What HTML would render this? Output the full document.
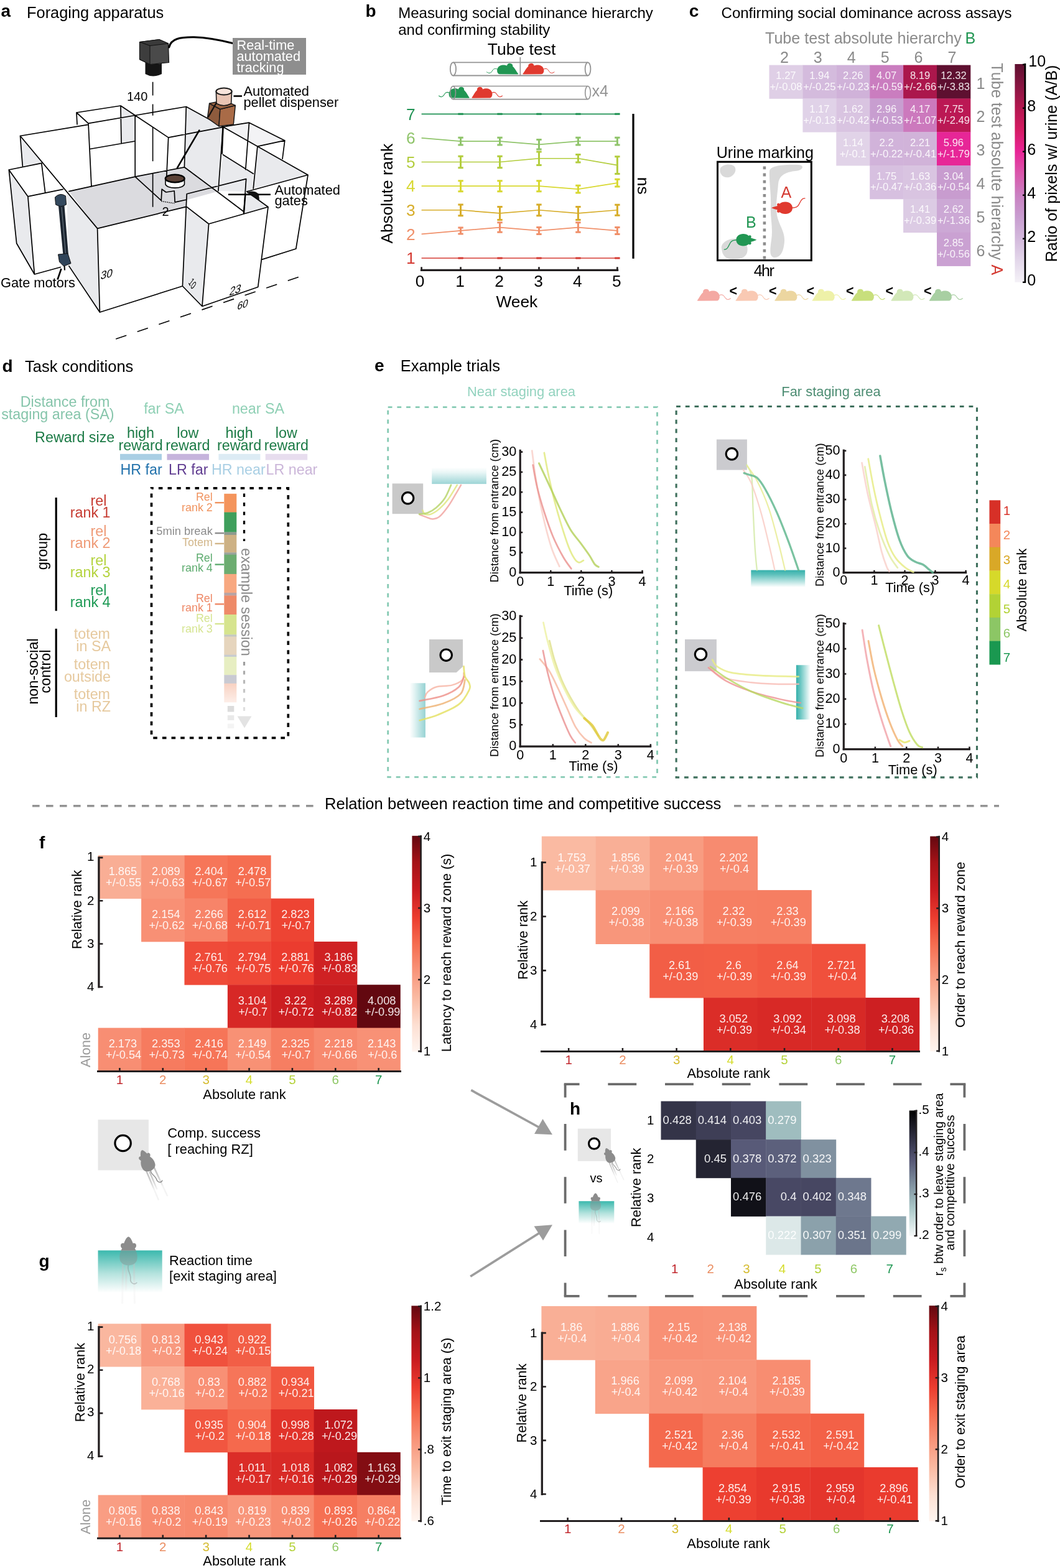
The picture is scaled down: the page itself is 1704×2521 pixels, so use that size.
<!DOCTYPE html>
<html lang="en"><head><meta charset="utf-8"><title>Figure</title>
<style>
html,body{margin:0;padding:0;background:#fff}
body{width:1704px;height:2521px;overflow:hidden}
svg{display:block;font-family:"Liberation Sans", Arial, Helvetica, sans-serif}
</style></head><body>
<svg width="1704" height="2521" viewBox="0 0 1704 2521">
<defs><linearGradient id="gpurd" x1="0" y1="0" x2="0" y2="1"><stop offset="0" stop-color="#5e1030"/><stop offset="0.1" stop-color="#881541"/><stop offset="0.2" stop-color="#b3174f"/><stop offset="0.3" stop-color="#d41b62"/><stop offset="0.4" stop-color="#e82496"/><stop offset="0.5" stop-color="#da56ab"/><stop offset="0.6" stop-color="#c980c1"/><stop offset="0.7" stop-color="#c89dd0"/><stop offset="0.8" stop-color="#d3b9dc"/><stop offset="0.9" stop-color="#e3d7ea"/><stop offset="1" stop-color="#f4f1f7"/></linearGradient>
<linearGradient id="gfade1" x1="0" y1="0" x2="0" y2="1"><stop offset="0" stop-color="#f8d2c2"/><stop offset="1" stop-color="#fdeee8"/></linearGradient>
<linearGradient id="gfade2" gradientUnits="userSpaceOnUse" x1="0" y1="1062" x2="0" y2="1146"><stop offset="0" stop-color="#9a9a9a"/><stop offset="1" stop-color="#e4e4e4"/></linearGradient>
<linearGradient id="gt_tb" x1="0" y1="0" x2="0" y2="1"><stop offset="0" stop-color="#ffffff"/><stop offset="0.3" stop-color="#e9f6f6"/><stop offset="1" stop-color="#9dd5d6"/></linearGradient>
<linearGradient id="gt_lr" x1="0" y1="0" x2="1" y2="0"><stop offset="0" stop-color="#ffffff"/><stop offset="0.3" stop-color="#e2f3f3"/><stop offset="1" stop-color="#96d2d3"/></linearGradient>
<linearGradient id="gt_bt" x1="0" y1="0" x2="0" y2="1"><stop offset="0" stop-color="#35b0ab"/><stop offset="0.25" stop-color="#5cc0bb"/><stop offset="1" stop-color="#ffffff"/></linearGradient>
<linearGradient id="gt_rl" x1="0" y1="0" x2="1" y2="0"><stop offset="0" stop-color="#35b0ab"/><stop offset="0.3" stop-color="#6ac6c2"/><stop offset="1" stop-color="#ffffff"/></linearGradient>
<linearGradient id="gr1" x1="0" y1="0" x2="0" y2="1"><stop offset="0" stop-color="#630810"/><stop offset="0.12" stop-color="#a41217"/><stop offset="0.25" stop-color="#c91b20"/><stop offset="0.38" stop-color="#ec3d2f"/><stop offset="0.5" stop-color="#f56c4f"/><stop offset="0.62" stop-color="#f89378"/><stop offset="0.75" stop-color="#fabaa2"/><stop offset="0.88" stop-color="#fde0d3"/><stop offset="1" stop-color="#fff5f0"/></linearGradient>
<linearGradient id="gr2" x1="0" y1="0" x2="0" y2="1"><stop offset="0" stop-color="#630810"/><stop offset="0.12" stop-color="#a41217"/><stop offset="0.25" stop-color="#c91b20"/><stop offset="0.38" stop-color="#ec3d2f"/><stop offset="0.5" stop-color="#f56c4f"/><stop offset="0.62" stop-color="#f89378"/><stop offset="0.75" stop-color="#fabaa2"/><stop offset="0.88" stop-color="#fde0d3"/><stop offset="1" stop-color="#fff5f0"/></linearGradient>
<linearGradient id="gr3" x1="0" y1="0" x2="0" y2="1"><stop offset="0" stop-color="#630810"/><stop offset="0.12" stop-color="#a41217"/><stop offset="0.25" stop-color="#c91b20"/><stop offset="0.38" stop-color="#ec3d2f"/><stop offset="0.5" stop-color="#f56c4f"/><stop offset="0.62" stop-color="#f89378"/><stop offset="0.75" stop-color="#fabaa2"/><stop offset="0.88" stop-color="#fde0d3"/><stop offset="1" stop-color="#fff5f0"/></linearGradient>
<linearGradient id="gr4" x1="0" y1="0" x2="0" y2="1"><stop offset="0" stop-color="#630810"/><stop offset="0.12" stop-color="#a41217"/><stop offset="0.25" stop-color="#c91b20"/><stop offset="0.38" stop-color="#ec3d2f"/><stop offset="0.5" stop-color="#f56c4f"/><stop offset="0.62" stop-color="#f89378"/><stop offset="0.75" stop-color="#fabaa2"/><stop offset="0.88" stop-color="#fde0d3"/><stop offset="1" stop-color="#fff5f0"/></linearGradient>
<linearGradient id="gtrail" gradientUnits="userSpaceOnUse" x1="0" y1="8" x2="0" y2="46"><stop offset="0" stop-color="#b9b9b9"/><stop offset="0.6" stop-color="#cfcfcf"/><stop offset="1" stop-color="#f3f3f3"/></linearGradient>
<linearGradient id="gteal" x1="0" y1="0" x2="0" y2="1"><stop offset="0" stop-color="#3bb9ae"/><stop offset="0.12" stop-color="#56c2b8"/><stop offset="0.55" stop-color="#b5e3de"/><stop offset="1" stop-color="#ffffff"/></linearGradient>
<clipPath id="cpm1"><rect x="150" y="1960" width="120" height="50.4"/></clipPath>
<linearGradient id="gbone" x1="0" y1="0" x2="0" y2="1"><stop offset="0" stop-color="#000000"/><stop offset="0.1" stop-color="#16161e"/><stop offset="0.2" stop-color="#2b2b3c"/><stop offset="0.3" stop-color="#41415a"/><stop offset="0.4" stop-color="#575876"/><stop offset="0.5" stop-color="#6c768c"/><stop offset="0.6" stop-color="#8294a2"/><stop offset="0.7" stop-color="#98b2b7"/><stop offset="0.8" stop-color="#b1cdcd"/><stop offset="0.9" stop-color="#d3e3e3"/><stop offset="1" stop-color="#f5f8f8"/></linearGradient>
<clipPath id="cpm2"><rect x="920" y="1900" width="80" height="31.2"/></clipPath></defs>
<rect width="1704" height="2521" fill="#fff"/>
<g id="pa">
<text x="1.5" y="27" font-size="28" fill="#000" font-weight="bold">a</text>
<text x="43" y="28.7" font-size="25.4" fill="#000">Foraging apparatus</text>
<path d="M32.5 218.5 L36.3 267 L67 262.4 L59 250 Z" fill="#e9eaed"/>
<path d="M14.3 273 L44.9 315.9 L55.4 441 L26.7 391.3 Z" fill="#e9eaed"/>
<path d="M107 306 L156.6 367.4 L160.4 502 L110.8 427.6 Z" fill="#e9eaed"/>
<path d="M110.8 307.6 L217.2 284.1 L296.4 268.8 L349 308 L300 321.5 L299.5 332.3 L156.6 367.4 Z" fill="#dbdbdf"/>
<path d="M194 170 L217 186 L217.2 228 L195 231 Z" fill="#e9eaed"/>
<path d="M299.3 171.5 L358.5 203.9 L350.9 307 L296.4 268.8 Z" fill="#e9eaed"/>
<path d="M400.5 197.2 L457.8 225.9 L413.9 235.4 L358.5 203.9 Z" fill="#f3f3f5"/>
<path d="M413.9 235.4 L495 281.3 L406.5 303.4 Z" fill="#e9eaed"/>
<path d="M358.5 248.8 L407.2 279.3 L406.2 303 L396.7 308 L350.9 307 Z" fill="#e9eaed"/>
<path d="M299.3 331.9 L335.6 360 L325 492.5 L293.4 460 Z" fill="#e9eaed"/>
<path d="M391.9 343.3 L396.7 308 L431 332.8 Z" fill="#e9eaed"/>
<path d="M123 181 L194 170 L217.2 185.5 L142 198.3 L123 181 M123 181 L124 200 M194 170 L195 230.5 M142 198.3 L147 300 M217.2 185.5 L217.2 284.1 M145 239.5 L217 227 M32.5 218.5 L142 200.4 M32.5 218.5 L36.3 267.2 M32.5 218.5 L156.6 367.4 M14.3 273 L66.8 262.4 M14.3 273 L44.9 315.9 L101.2 304.4 M14.3 273 L26.7 391.3 L55.4 441 L97.4 429.5 M44.9 315.9 L55.4 441 M66.8 262.4 L72.6 309.2 M156.6 367.4 L160.4 502 L293.4 460 M156.6 367.4 L299.6 332.3 M160.4 502 L110.8 427.6 M110.8 307.6 L217.2 284.1 L296.4 268.8 M217.2 185.5 L299.3 171.5 L358.5 203.9 L495 281.3 M217.2 185.5 L270.7 221.1 L358.5 204.3 M270.7 221.1 L267.8 284 M299.3 171.5 L296.4 268.8 M358.5 204.3 L350.9 307 M217.2 284.1 L259.2 322.3 L260.2 304.2 L266.8 309 L280.2 307 L281.2 325.2 L300 321 M296.4 268.8 L349 308 L391.5 340 M300.3 311.8 L395.7 287.6 L391.9 343.3 M300.3 311.8 L299.3 331.9 L293.4 460 M299.3 331.9 L335.6 360 L431 332.8 L414.7 461.5 L325 492.5 L335.6 360 M293.4 460 L325 492.5 M396.7 308 L431 332.8 M396.7 308 L495 281.3 L475.8 400 L421.4 417.1 M358.5 203.9 L400.5 197.2 L457.8 225.9 L413.9 235.4 M457.8 225.9 L454 255.5 M400.5 197.2 L394.8 272.7 M413.9 235.4 L407.2 303.2 M358.5 248.8 L407.2 279.3" fill="none" stroke="#000" stroke-width="1.7" stroke-linejoin="round" stroke-linecap="round"/>
<line x1="259.5" y1="323.5" x2="281" y2="327" stroke="#000" stroke-width="1.5" stroke-dasharray="1.5 1.5"/>
<line x1="320.3" y1="209.6" x2="285" y2="269.8" stroke="#000" stroke-width="2.6" stroke-linecap="round"/>
<line x1="358.5" y1="204.3" x2="356.6" y2="247.8" stroke="#000" stroke-width="2.6"/>
<line x1="367" y1="312.8" x2="434.9" y2="312.8" stroke="#000" stroke-width="2.6"/>
<line x1="394.5" y1="311" x2="391.9" y2="343.3" stroke="#000" stroke-width="2.4"/>
<path d="M398 309 Q408 305 416 312 L417 322 L403 314 Z" fill="#111"/>
<path d="M266 287 L266 296 A15.3 6.7 0 0 0 296.5 296 L296.5 287 Z" fill="#fff" stroke="#000" stroke-width="1.6"/>
<ellipse cx="281.2" cy="287" rx="15.3" ry="6.2" fill="#5a4136" stroke="#000" stroke-width="2.6"/>
<path d="M245.6 131.7 V153.6 M245.6 167.6 V185.8 M245.6 204.9 V259.3 M245.6 278.4 V332.8" fill="none" stroke="#000" stroke-width="1.6"/>
<line x1="186.2" y1="545" x2="481.2" y2="445" stroke="#000" stroke-width="1.6" stroke-dasharray="18 18.5"/>
<path d="M224.5 67.5 L256 63.5 L270.5 70 L271.5 100.5 L241 103.5 L224.5 95.5 Z" fill="#4a4a4a" stroke="#111" stroke-width="1.2"/>
<path d="M224.5 67.5 L256 63.5 L270.5 70 L241 73.5 Z" fill="#3a3a3a" stroke="#111" stroke-width="1"/>
<path d="M224.5 67.5 L241 73.5 L241 103.5 L224.5 95.5 Z" fill="#3d3d3d" stroke="#111" stroke-width="1"/>
<path d="M233.5 100 L233.5 119 Q246 126 260 119 L260 102 L241 103.5 Z" fill="#151515"/>
<path d="M271.8 76 C275 62 290 59.5 312 59.8 C336 60.3 356 65 374 69.6" fill="none" stroke="#000" stroke-width="3.1" stroke-linecap="round"/>
<rect x="374" y="61" width="118" height="59" fill="#8e8e8e"/>
<text x="380.5" y="79.5" font-size="21.7" fill="#fff">Real-time</text>
<text x="380.5" y="97.5" font-size="21.7" fill="#fff">automated</text>
<text x="380.5" y="115.5" font-size="21.7" fill="#fff">tracking</text>
<path d="M336.6 166.3 L353.9 175.5 L351.9 203 L333.5 189.8 Z" fill="#8e5b3d" stroke="#1a1a1a" stroke-width="1.5" stroke-linejoin="round"/>
<path d="M353.9 175.5 L378.3 169.4 L375.3 200 L351.9 203 Z" fill="#a96b47" stroke="#1a1a1a" stroke-width="1.5" stroke-linejoin="round"/>
<path d="M336.6 166.3 L360 161.5 L378.3 169.4 L353.9 175.5 Z" fill="#9c6443" stroke="#1a1a1a" stroke-width="1.5" stroke-linejoin="round"/>
<path d="M347.4 147 L348 166.5 Q360 173 371.6 166.5 L372.6 147 Z" fill="#e9c5b4" stroke="#1a1a1a" stroke-width="1.6"/>
<ellipse cx="360" cy="147" rx="12.6" ry="5.4" fill="#f7e4db" stroke="#1a1a1a" stroke-width="2"/>
<line x1="348" y1="165" x2="334.5" y2="188.5" stroke="#111" stroke-width="2.4"/>
<line x1="375.5" y1="154.5" x2="389" y2="154.5" stroke="#000" stroke-width="2.6"/>
<text x="391.5" y="153.5" font-size="21.8" fill="#000">Automated</text>
<text x="391.5" y="171.5" font-size="21.8" fill="#000">pellet dispenser</text>
<text x="441.5" y="312.5" font-size="21.8" fill="#000">Automated</text>
<text x="441.5" y="330.3" font-size="21.8" fill="#000">gates</text>
<text x="204" y="162.3" font-size="20" fill="#000">140</text>
<text x="260.5" y="347.3" font-size="20" fill="#000">2</text>
<text x="1" y="462.3" font-size="21.8" fill="#000">Gate motors</text>
<line x1="98.5" y1="432" x2="92.5" y2="449.5" stroke="#000" stroke-width="2.6"/>
<path d="M88.5 317 Q96.5 309 105.5 315 L106.5 329 Q98 334 89.5 329 Z" fill="#34495e" stroke="#111" stroke-width="1"/>
<path d="M94 331 L103.5 331 L110 410 L101.5 410 Z" fill="#1c2530"/>
<line x1="99" y1="333" x2="105.5" y2="408" stroke="#7d8a96" stroke-width="0.9"/>
<path d="M93.5 409 L109 407.5 L114 423.5 L102.5 428 L95.5 421 Z" fill="#2f4358" stroke="#111" stroke-width="1"/>
<line x1="103.5" y1="427" x2="104" y2="434.5" stroke="#111" stroke-width="2.2"/>
<text font-size="17.5" transform="translate(161 449.5) rotate(-14) skewX(-24)">30</text>
<text font-size="16" transform="translate(302.5 455) rotate(60) skewX(22) scale(0.72 1)">10</text>
<text font-size="17" transform="translate(368 475.5) rotate(-18) skewX(-30)">23</text>
<text font-size="16" transform="translate(380.5 498.5) rotate(-18) skewX(-30)">60</text>
</g>
<g id="pb">
<text x="587.5" y="27" font-size="28" fill="#000" font-weight="bold">b</text>
<text x="640.2" y="28.5" font-size="24" fill="#000">Measuring social dominance hierarchy</text>
<text x="640.2" y="56" font-size="24" fill="#000">and confirming stability</text>
<text x="838.6" y="88" font-size="26.5" fill="#000" text-anchor="middle">Tube test</text>
<line x1="728.2" y1="100.3" x2="945" y2="100.3" stroke="#939393" stroke-width="1.8"/>
<line x1="728.2" y1="121.5" x2="945" y2="121.5" stroke="#939393" stroke-width="1.8"/>
<ellipse cx="728.4" cy="110.9" rx="4.6" ry="10.6" fill="#fff" stroke="#939393" stroke-width="1.8"/>
<ellipse cx="945" cy="110.9" rx="4.4" ry="10.6" fill="#fff" stroke="#939393" stroke-width="1.8"/>
<line x1="836.3" y1="92" x2="836.3" y2="121" stroke="#939393" stroke-width="1.6"/>
<g transform="translate(799 102.2) scale(1 1)"><path d="M4.5 17 C1.5 17 -0.3 13.5 0.2 10 C0.8 5.5 4.5 2.6 9 2.3 C11.5 2.1 14 2.6 16 3.4 C16.2 0.8 18.5 -0.6 21.2 -0.3 C24 0 25.8 2 25.2 4.6 C27.5 6.5 29.5 9.5 31 12 C32 13.6 33.2 15.4 34.2 16.6 C34.5 17 34 17.2 33 17.2 Z" fill="#219653"/><path d="M0.6 9 C-2.5 7.5 -5 8 -6.8 10.5 C-8.5 13 -9.5 15 -12 15.2 C-14 15.4 -15 14.6 -16.5 13.6" fill="none" stroke="#219653" stroke-width="1" stroke-linecap="round"/></g>
<g transform="translate(874.5 102.2) scale(-1 1)"><path d="M4.5 17 C1.5 17 -0.3 13.5 0.2 10 C0.8 5.5 4.5 2.6 9 2.3 C11.5 2.1 14 2.6 16 3.4 C16.2 0.8 18.5 -0.6 21.2 -0.3 C24 0 25.8 2 25.2 4.6 C27.5 6.5 29.5 9.5 31 12 C32 13.6 33.2 15.4 34.2 16.6 C34.5 17 34 17.2 33 17.2 Z" fill="#e03a2f"/><path d="M0.6 9 C-2.5 7.5 -5 8 -6.8 10.5 C-8.5 13 -9.5 15 -12 15.2 C-14 15.4 -15 14.6 -16.5 13.6" fill="none" stroke="#e03a2f" stroke-width="1" stroke-linecap="round"/></g>
<line x1="728.2" y1="138.5" x2="945" y2="138.5" stroke="#939393" stroke-width="1.6"/>
<line x1="728.2" y1="159.6" x2="945" y2="159.6" stroke="#939393" stroke-width="1.6"/>
<ellipse cx="945" cy="149" rx="4.3" ry="10.5" fill="#fff" stroke="#939393" stroke-width="1.6"/>
<g transform="translate(721.5 140) scale(0.97 1.03)"><path d="M4.5 17 C1.5 17 -0.3 13.5 0.2 10 C0.8 5.5 4.5 2.6 9 2.3 C11.5 2.1 14 2.6 16 3.4 C16.2 0.8 18.5 -0.6 21.2 -0.3 C24 0 25.8 2 25.2 4.6 C27.5 6.5 29.5 9.5 31 12 C32 13.6 33.2 15.4 34.2 16.6 C34.5 17 34 17.2 33 17.2 Z" fill="#219653"/><path d="M0.6 9 C-2.5 7.5 -5 8 -6.8 10.5 C-8.5 13 -9.5 15 -12 15.2 C-14 15.4 -15 14.6 -16.5 13.6" fill="none" stroke="#219653" stroke-width="1" stroke-linecap="round"/></g>
<g transform="translate(791.5 140) scale(-0.97 1.03)"><path d="M4.5 17 C1.5 17 -0.3 13.5 0.2 10 C0.8 5.5 4.5 2.6 9 2.3 C11.5 2.1 14 2.6 16 3.4 C16.2 0.8 18.5 -0.6 21.2 -0.3 C24 0 25.8 2 25.2 4.6 C27.5 6.5 29.5 9.5 31 12 C32 13.6 33.2 15.4 34.2 16.6 C34.5 17 34 17.2 33 17.2 Z" fill="#e03a2f"/><path d="M0.6 9 C-2.5 7.5 -5 8 -6.8 10.5 C-8.5 13 -9.5 15 -12 15.2 C-14 15.4 -15 14.6 -16.5 13.6" fill="none" stroke="#e03a2f" stroke-width="1" stroke-linecap="round"/></g>
<ellipse cx="728.2" cy="149" rx="4.3" ry="10.5" fill="none" stroke="#939393" stroke-width="1.6"/>
<text x="951.5" y="155.3" font-size="25" fill="#939393">x4</text>
<path d="M677.6 183.28 L740.55 183.28 L803.5 183.28 L866.45 183.28 L929.4 183.28 L992.35 183.28" fill="none" stroke="#1f9253" stroke-width="1.7"/>
<path d="M736.35 183.28 H744.75 M799.3 183.28 H807.7 M862.25 183.28 H870.65 M925.2 183.28 H933.6 M988.15 183.28 H996.55 " fill="none" stroke="#1f9253" stroke-width="3"/>
<text x="660.2" y="192.58" font-size="26.3" fill="#1f9253" text-anchor="middle">7</text>
<path d="M677.6 221.9 L740.55 227.11 L803.5 227.11 L866.45 232.33 L929.4 227.11 L992.35 227.11" fill="none" stroke="#8fc46a" stroke-width="1.7"/>
<path d="M740.55 221.32 V232.91 M736.35 221.32 H744.75 M736.35 232.91 H744.75 M803.5 221.32 V232.91 M799.3 221.32 H807.7 M799.3 232.91 H807.7 M866.45 224.6 V240.05 M862.25 224.6 H870.65 M862.25 240.05 H870.65 M929.4 221.32 V232.91 M925.2 221.32 H933.6 M925.2 232.91 H933.6 M992.35 221.32 V232.91 M988.15 221.32 H996.55 M988.15 232.91 H996.55 " fill="none" stroke="#8fc46a" stroke-width="3"/>
<text x="660.2" y="231.2" font-size="26.3" fill="#8fc46a" text-anchor="middle">6</text>
<path d="M677.6 260.52 L740.55 260.52 L803.5 260.52 L866.45 254.73 L929.4 254.73 L992.35 265.54" fill="none" stroke="#b3cd3e" stroke-width="1.7"/>
<path d="M740.55 251.25 V269.79 M736.35 251.25 H744.75 M736.35 269.79 H744.75 M803.5 251.25 V269.79 M799.3 251.25 H807.7 M799.3 269.79 H807.7 M866.45 243.91 V265.54 M862.25 243.91 H870.65 M862.25 265.54 H870.65 M929.4 248.55 V260.91 M925.2 248.55 H933.6 M925.2 260.91 H933.6 M992.35 251.64 V279.44 M988.15 251.64 H996.55 M988.15 279.44 H996.55 " fill="none" stroke="#b3cd3e" stroke-width="3"/>
<text x="660.2" y="269.82" font-size="26.3" fill="#b3cd3e" text-anchor="middle">5</text>
<path d="M677.6 299.14 L740.55 299.14 L803.5 299.14 L866.45 299.14 L929.4 304.16 L992.35 294.12" fill="none" stroke="#d8d830" stroke-width="1.7"/>
<path d="M740.55 290.64 V307.64 M736.35 290.64 H744.75 M736.35 307.64 H744.75 M803.5 290.64 V307.64 M799.3 290.64 H807.7 M799.3 307.64 H807.7 M866.45 290.64 V307.64 M862.25 290.64 H870.65 M862.25 307.64 H870.65 M929.4 298.37 V309.95 M925.2 298.37 H933.6 M925.2 309.95 H933.6 M992.35 288.33 V299.91 M988.15 288.33 H996.55 M988.15 299.91 H996.55 " fill="none" stroke="#d8d830" stroke-width="3"/>
<text x="660.2" y="308.44" font-size="26.3" fill="#d8d830" text-anchor="middle">4</text>
<path d="M677.6 337.76 L740.55 337.76 L803.5 342.97 L866.45 337.76 L929.4 342.97 L992.35 337.76" fill="none" stroke="#d7ad2a" stroke-width="1.7"/>
<path d="M740.55 328.88 V346.64 M736.35 328.88 H744.75 M736.35 346.64 H744.75 M803.5 332.55 V353.4 M799.3 332.55 H807.7 M799.3 353.4 H807.7 M866.45 328.88 V346.64 M862.25 328.88 H870.65 M862.25 346.64 H870.65 M929.4 332.55 V353.4 M925.2 332.55 H933.6 M925.2 353.4 H933.6 M992.35 329.26 V346.26 M988.15 329.26 H996.55 M988.15 346.26 H996.55 " fill="none" stroke="#d7ad2a" stroke-width="3"/>
<text x="660.2" y="347.06" font-size="26.3" fill="#d7ad2a" text-anchor="middle">3</text>
<path d="M677.6 376.38 L740.55 370.97 L803.5 365.57 L866.45 370.97 L929.4 365.57 L992.35 370.97" fill="none" stroke="#f0906a" stroke-width="1.7"/>
<path d="M740.55 365.95 V375.99 M736.35 365.95 H744.75 M736.35 375.99 H744.75 M803.5 357.84 V373.29 M799.3 357.84 H807.7 M799.3 373.29 H807.7 M866.45 365.57 V376.38 M862.25 365.57 H870.65 M862.25 376.38 H870.65 M929.4 357.84 V373.29 M925.2 357.84 H933.6 M925.2 373.29 H933.6 M992.35 365.57 V376.38 M988.15 365.57 H996.55 M988.15 376.38 H996.55 " fill="none" stroke="#f0906a" stroke-width="3"/>
<text x="660.2" y="385.68" font-size="26.3" fill="#f0906a" text-anchor="middle">2</text>
<path d="M677.6 415 L740.55 415 L803.5 415 L866.45 415 L929.4 415 L992.35 415" fill="none" stroke="#d43a32" stroke-width="1.7"/>
<path d="M736.35 415 H744.75 M799.3 415 H807.7 M862.25 415 H870.65 M925.2 415 H933.6 M988.15 415 H996.55 " fill="none" stroke="#d43a32" stroke-width="3"/>
<text x="660.2" y="424.3" font-size="26.3" fill="#d43a32" text-anchor="middle">1</text>
<line x1="675.9" y1="434.3" x2="994.2" y2="434.3" stroke="#231f20" stroke-width="3.2"/>
<text x="675.1" y="461" font-size="26.3" fill="#000" text-anchor="middle">0</text>
<text x="739.55" y="461" font-size="26.3" fill="#000" text-anchor="middle">1</text>
<text x="802.5" y="461" font-size="26.3" fill="#000" text-anchor="middle">2</text>
<text x="865.45" y="461" font-size="26.3" fill="#000" text-anchor="middle">3</text>
<text x="928.4" y="461" font-size="26.3" fill="#000" text-anchor="middle">4</text>
<text x="991.35" y="461" font-size="26.3" fill="#000" text-anchor="middle">5</text>
<path d="M677.6 434.3 V429.3 M740.55 434.3 V429.3 M803.5 434.3 V429.3 M866.45 434.3 V429.3 M929.4 434.3 V429.3 M992.35 434.3 V429.3 " fill="none" stroke="#231f20" stroke-width="2.6"/>
<text x="830.9" y="493.8" font-size="26.3" fill="#000" text-anchor="middle">Week</text>
<text font-size="26.3" fill="#000" text-anchor="middle" transform="translate(630.5 311.2) rotate(-90)">Absolute rank</text>
<line x1="1018" y1="183" x2="1018" y2="415.8" stroke="#000" stroke-width="3.2"/>
<text font-size="26.3" fill="#000" text-anchor="middle" transform="translate(1025 298.7) rotate(90)">ns</text>
</g>
<g id="pc">
<text x="1107.8" y="26.5" font-size="28" fill="#000" font-weight="bold">c</text>
<text x="1159.6" y="28.8" font-size="24" fill="#000">Confirming social dominance across assays</text>
<text x="1230" y="70.4" font-size="25.1" fill="#8a8a8a">Tube test absolute hierarchy</text>
<text x="1551.5" y="70.4" font-size="25.1" fill="#219653">B</text>
<rect x="1236.5" y="104.6" width="54.3" height="54.22" fill="#dfcfe6"/>
<rect x="1290.4" y="104.6" width="54.3" height="54.22" fill="#d4bbdd"/>
<rect x="1344.3" y="104.6" width="54.3" height="54.22" fill="#d0b2d9"/>
<rect x="1398.2" y="104.6" width="54.3" height="54.22" fill="#ca7dbf"/>
<rect x="1452.1" y="104.6" width="54.3" height="54.22" fill="#ab174c"/>
<rect x="1506" y="104.6" width="54.3" height="54.22" fill="#5e1030"/>
<rect x="1290.4" y="158.42" width="54.3" height="54.22" fill="#e0d2e8"/>
<rect x="1344.3" y="158.42" width="54.3" height="54.22" fill="#d9c4e1"/>
<rect x="1398.2" y="158.42" width="54.3" height="54.22" fill="#c89ed0"/>
<rect x="1452.1" y="158.42" width="54.3" height="54.22" fill="#cc79bd"/>
<rect x="1506" y="158.42" width="54.3" height="54.22" fill="#bb1854"/>
<rect x="1344.3" y="212.24" width="54.3" height="54.22" fill="#e1d3e8"/>
<rect x="1398.2" y="212.24" width="54.3" height="54.22" fill="#d1b3da"/>
<rect x="1452.1" y="212.24" width="54.3" height="54.22" fill="#d1b3d9"/>
<rect x="1506" y="212.24" width="54.3" height="54.22" fill="#e72697"/>
<rect x="1398.2" y="266.06" width="54.3" height="54.22" fill="#d7c0e0"/>
<rect x="1452.1" y="266.06" width="54.3" height="54.22" fill="#d9c4e1"/>
<rect x="1506" y="266.06" width="54.3" height="54.22" fill="#c89ccf"/>
<rect x="1452.1" y="319.88" width="54.3" height="54.22" fill="#dccbe4"/>
<rect x="1506" y="319.88" width="54.3" height="54.22" fill="#cca8d5"/>
<rect x="1506" y="373.7" width="54.3" height="54.22" fill="#caa1d2"/>
<g fill="#fff" fill-opacity="0.88" font-size="16.6" text-anchor="middle">
<text x="1263.45" y="127.21">1.27</text>
<text x="1263.45" y="144.91">+/-0.08</text>
<text x="1317.35" y="127.21">1.94</text>
<text x="1317.35" y="144.91">+/-0.25</text>
<text x="1371.25" y="127.21">2.26</text>
<text x="1371.25" y="144.91">+/-0.23</text>
<text x="1425.15" y="127.21">4.07</text>
<text x="1425.15" y="144.91">+/-0.59</text>
<text x="1479.05" y="127.21">8.19</text>
<text x="1479.05" y="144.91">+/-2.66</text>
<text x="1532.95" y="127.21">12.32</text>
<text x="1532.95" y="144.91">+/-3.83</text>
<text x="1317.35" y="181.03">1.17</text>
<text x="1317.35" y="198.73">+/-0.13</text>
<text x="1371.25" y="181.03">1.62</text>
<text x="1371.25" y="198.73">+/-0.42</text>
<text x="1425.15" y="181.03">2.96</text>
<text x="1425.15" y="198.73">+/-0.53</text>
<text x="1479.05" y="181.03">4.17</text>
<text x="1479.05" y="198.73">+/-1.07</text>
<text x="1532.95" y="181.03">7.75</text>
<text x="1532.95" y="198.73">+/-2.49</text>
<text x="1371.25" y="234.85">1.14</text>
<text x="1371.25" y="252.55">+/-0.1</text>
<text x="1425.15" y="234.85">2.2</text>
<text x="1425.15" y="252.55">+/-0.22</text>
<text x="1479.05" y="234.85">2.21</text>
<text x="1479.05" y="252.55">+/-0.41</text>
<text x="1532.95" y="234.85">5.96</text>
<text x="1532.95" y="252.55">+/-1.79</text>
<text x="1425.15" y="288.67">1.75</text>
<text x="1425.15" y="306.37">+/-0.47</text>
<text x="1479.05" y="288.67">1.63</text>
<text x="1479.05" y="306.37">+/-0.36</text>
<text x="1532.95" y="288.67">3.04</text>
<text x="1532.95" y="306.37">+/-0.54</text>
<text x="1479.05" y="342.49">1.41</text>
<text x="1479.05" y="360.19">+/-0.39</text>
<text x="1532.95" y="342.49">2.62</text>
<text x="1532.95" y="360.19">+/-1.36</text>
<text x="1532.95" y="396.31">2.85</text>
<text x="1532.95" y="414.01">+/-0.56</text>
</g>
<text x="1260.95" y="100.7" font-size="25.1" fill="#8a8a8a" text-anchor="middle">2</text>
<text x="1314.85" y="100.7" font-size="25.1" fill="#8a8a8a" text-anchor="middle">3</text>
<text x="1368.75" y="100.7" font-size="25.1" fill="#8a8a8a" text-anchor="middle">4</text>
<text x="1422.65" y="100.7" font-size="25.1" fill="#8a8a8a" text-anchor="middle">5</text>
<text x="1476.55" y="100.7" font-size="25.1" fill="#8a8a8a" text-anchor="middle">6</text>
<text x="1530.45" y="100.7" font-size="25.1" fill="#8a8a8a" text-anchor="middle">7</text>
<text x="1576.5" y="142.51" font-size="25.1" fill="#8a8a8a" text-anchor="middle">1</text>
<text x="1576.5" y="196.33" font-size="25.1" fill="#8a8a8a" text-anchor="middle">2</text>
<text x="1576.5" y="250.15" font-size="25.1" fill="#8a8a8a" text-anchor="middle">3</text>
<text x="1576.5" y="303.97" font-size="25.1" fill="#8a8a8a" text-anchor="middle">4</text>
<text x="1576.5" y="357.79" font-size="25.1" fill="#8a8a8a" text-anchor="middle">5</text>
<text x="1576.5" y="411.61" font-size="25.1" fill="#8a8a8a" text-anchor="middle">6</text>
<text font-size="25.2" fill="#8a8a8a" transform="translate(1593.5 101.3) rotate(90)">Tube test absolute hierarchy</text>
<text font-size="25.1" fill="#d43a32" transform="translate(1593.5 425.5) rotate(90)">A</text>
<rect x="1631.4" y="103" width="16.4" height="350.8" fill="url(#gpurd)"/>
<line x1="1647.9" y1="102" x2="1647.9" y2="454.6" stroke="#000" stroke-width="2.7"/>
<line x1="1644" y1="103.8" x2="1649" y2="103.8" stroke="#000" stroke-width="2.4"/>
<text x="1653.2" y="107.2" font-size="25.1" fill="#000">10</text>
<line x1="1644" y1="173.8" x2="1649" y2="173.8" stroke="#000" stroke-width="2.4"/>
<text x="1651.2" y="178.8" font-size="25.1" fill="#000">8</text>
<line x1="1644" y1="243.8" x2="1649" y2="243.8" stroke="#000" stroke-width="2.4"/>
<text x="1651.2" y="248.8" font-size="25.1" fill="#000">6</text>
<line x1="1644" y1="313.8" x2="1649" y2="313.8" stroke="#000" stroke-width="2.4"/>
<text x="1651.2" y="318.8" font-size="25.1" fill="#000">4</text>
<line x1="1644" y1="383.8" x2="1649" y2="383.8" stroke="#000" stroke-width="2.4"/>
<text x="1651.2" y="388.8" font-size="25.1" fill="#000">2</text>
<line x1="1644" y1="453.8" x2="1649" y2="453.8" stroke="#000" stroke-width="2.4"/>
<text x="1651.2" y="458.8" font-size="25.1" fill="#000">0</text>
<text font-size="25.1" fill="#000" text-anchor="middle" transform="translate(1698.5 263) rotate(-90)">Ratio of pixels w/ urine (A/B)</text>
<text x="1151.7" y="253.8" font-size="25.1" fill="#000">Urine marking</text>
<rect x="1153.5" y="260.2" width="150.8" height="158.4" fill="#fff" stroke="#000" stroke-width="3"/>
<path d="M1158 271 C1160 264 1176 262 1181 268 C1185 274 1180 283 1172 285 C1163 287 1156 280 1158 271 Z" fill="#d9d9d9"/>
<path d="M1237 275 C1238 266 1262 264 1284 265 C1294 266 1291 274 1278 275 C1262 277 1252 282 1251 296 C1250 312 1246 330 1249 346 C1252 362 1262 372 1261 388 C1260 402 1256 414 1245 414 C1236 414 1238 400 1240 386 C1243 366 1238 350 1239 332 C1240 312 1236 292 1237 275 Z" fill="#d9d9d9"/>
<path d="M1160 400 C1158 390 1172 382 1186 384 C1198 386 1204 396 1201 406 C1199 414 1190 417 1178 417 C1166 417 1161 410 1160 400 Z" fill="#d9d9d9"/>
<line x1="1228.9" y1="267.5" x2="1228.9" y2="417" stroke="#8e8e8e" stroke-width="4.6" stroke-dasharray="4.8 6.3"/>
<text x="1255.5" y="318.3" font-size="25.1" fill="#d43a32">A</text>
<text x="1199" y="366" font-size="25.1" fill="#219653">B</text>
<g transform="translate(1275 323.55) scale(-0.97 1.02)"><path d="M1 10.5 C1 4.5 6.5 1 13 1 C17 1 20 2.2 22.5 4 C23.5 2.6 26 2.8 26.6 4.6 C27 5.8 26.6 6.8 26 7.4 C29.5 8.2 33.5 9.4 36 10.5 C33.5 11.6 29.5 12.8 26 13.6 C26.6 14.2 27 15.2 26.6 16.4 C26 18.2 23.5 18.4 22.5 17 C20 18.8 17 20 13 20 C6.5 20 1 16.5 1 10.5 Z" fill="#e03a2f"/><path d="M1.5 10.5 C-5 10 -8 9 -10.5 3.5 C-13 -1.5 -15 -5 -19.5 -4.5" fill="none" stroke="#e03a2f" stroke-width="1.3" stroke-linecap="round"/></g>
<g transform="translate(1182.5 375.05) scale(0.94 1.02)"><path d="M1 10.5 C1 4.5 6.5 1 13 1 C17 1 20 2.2 22.5 4 C23.5 2.6 26 2.8 26.6 4.6 C27 5.8 26.6 6.8 26 7.4 C29.5 8.2 33.5 9.4 36 10.5 C33.5 11.6 29.5 12.8 26 13.6 C26.6 14.2 27 15.2 26.6 16.4 C26 18.2 23.5 18.4 22.5 17 C20 18.8 17 20 13 20 C6.5 20 1 16.5 1 10.5 Z" fill="#219653"/><path d="M1.5 10.5 C-5 11 -8 12 -10.5 17.5 C-13 22.5 -15 26 -19.5 25.5" fill="none" stroke="#219653" stroke-width="1.3" stroke-linecap="round"/></g>
<text x="1227.5" y="444.2" font-size="25.1" fill="#000" text-anchor="middle" letter-spacing="-1.6">4hr</text>
<g transform="translate(1157 465) scale(-1.06 1.09)"><path d="M4.5 17 C1.5 17 -0.3 13.5 0.2 10 C0.8 5.5 4.5 2.6 9 2.3 C11.5 2.1 14 2.6 16 3.4 C16.2 0.8 18.5 -0.6 21.2 -0.3 C24 0 25.8 2 25.2 4.6 C27.5 6.5 29.5 9.5 31 12 C32 13.6 33.2 15.4 34.2 16.6 C34.5 17 34 17.2 33 17.2 Z" fill="#f4a9a3"/><path d="M0.6 9 C-2.5 7.5 -5 8 -6.8 10.5 C-8.5 13 -9.5 15 -12 15.2 C-14 15.4 -15 14.6 -16.5 13.6" fill="none" stroke="#f4a9a3" stroke-width="1" stroke-linecap="round"/></g>
<g transform="translate(1218.8 465) scale(-1.06 1.09)"><path d="M4.5 17 C1.5 17 -0.3 13.5 0.2 10 C0.8 5.5 4.5 2.6 9 2.3 C11.5 2.1 14 2.6 16 3.4 C16.2 0.8 18.5 -0.6 21.2 -0.3 C24 0 25.8 2 25.2 4.6 C27.5 6.5 29.5 9.5 31 12 C32 13.6 33.2 15.4 34.2 16.6 C34.5 17 34 17.2 33 17.2 Z" fill="#f9c9b3"/><path d="M0.6 9 C-2.5 7.5 -5 8 -6.8 10.5 C-8.5 13 -9.5 15 -12 15.2 C-14 15.4 -15 14.6 -16.5 13.6" fill="none" stroke="#f9c9b3" stroke-width="1" stroke-linecap="round"/></g>
<g transform="translate(1281.5 465) scale(-1.06 1.09)"><path d="M4.5 17 C1.5 17 -0.3 13.5 0.2 10 C0.8 5.5 4.5 2.6 9 2.3 C11.5 2.1 14 2.6 16 3.4 C16.2 0.8 18.5 -0.6 21.2 -0.3 C24 0 25.8 2 25.2 4.6 C27.5 6.5 29.5 9.5 31 12 C32 13.6 33.2 15.4 34.2 16.6 C34.5 17 34 17.2 33 17.2 Z" fill="#ecd6a0"/><path d="M0.6 9 C-2.5 7.5 -5 8 -6.8 10.5 C-8.5 13 -9.5 15 -12 15.2 C-14 15.4 -15 14.6 -16.5 13.6" fill="none" stroke="#ecd6a0" stroke-width="1" stroke-linecap="round"/></g>
<g transform="translate(1341.8 465) scale(-1.06 1.09)"><path d="M4.5 17 C1.5 17 -0.3 13.5 0.2 10 C0.8 5.5 4.5 2.6 9 2.3 C11.5 2.1 14 2.6 16 3.4 C16.2 0.8 18.5 -0.6 21.2 -0.3 C24 0 25.8 2 25.2 4.6 C27.5 6.5 29.5 9.5 31 12 C32 13.6 33.2 15.4 34.2 16.6 C34.5 17 34 17.2 33 17.2 Z" fill="#eef1a8"/><path d="M0.6 9 C-2.5 7.5 -5 8 -6.8 10.5 C-8.5 13 -9.5 15 -12 15.2 C-14 15.4 -15 14.6 -16.5 13.6" fill="none" stroke="#eef1a8" stroke-width="1" stroke-linecap="round"/></g>
<g transform="translate(1405 465) scale(-1.06 1.09)"><path d="M4.5 17 C1.5 17 -0.3 13.5 0.2 10 C0.8 5.5 4.5 2.6 9 2.3 C11.5 2.1 14 2.6 16 3.4 C16.2 0.8 18.5 -0.6 21.2 -0.3 C24 0 25.8 2 25.2 4.6 C27.5 6.5 29.5 9.5 31 12 C32 13.6 33.2 15.4 34.2 16.6 C34.5 17 34 17.2 33 17.2 Z" fill="#c8df7c"/><path d="M0.6 9 C-2.5 7.5 -5 8 -6.8 10.5 C-8.5 13 -9.5 15 -12 15.2 C-14 15.4 -15 14.6 -16.5 13.6" fill="none" stroke="#c8df7c" stroke-width="1" stroke-linecap="round"/></g>
<g transform="translate(1468.6 465) scale(-1.06 1.09)"><path d="M4.5 17 C1.5 17 -0.3 13.5 0.2 10 C0.8 5.5 4.5 2.6 9 2.3 C11.5 2.1 14 2.6 16 3.4 C16.2 0.8 18.5 -0.6 21.2 -0.3 C24 0 25.8 2 25.2 4.6 C27.5 6.5 29.5 9.5 31 12 C32 13.6 33.2 15.4 34.2 16.6 C34.5 17 34 17.2 33 17.2 Z" fill="#d2e8b8"/><path d="M0.6 9 C-2.5 7.5 -5 8 -6.8 10.5 C-8.5 13 -9.5 15 -12 15.2 C-14 15.4 -15 14.6 -16.5 13.6" fill="none" stroke="#d2e8b8" stroke-width="1" stroke-linecap="round"/></g>
<g transform="translate(1530 465) scale(-1.06 1.09)"><path d="M4.5 17 C1.5 17 -0.3 13.5 0.2 10 C0.8 5.5 4.5 2.6 9 2.3 C11.5 2.1 14 2.6 16 3.4 C16.2 0.8 18.5 -0.6 21.2 -0.3 C24 0 25.8 2 25.2 4.6 C27.5 6.5 29.5 9.5 31 12 C32 13.6 33.2 15.4 34.2 16.6 C34.5 17 34 17.2 33 17.2 Z" fill="#a8cfa2"/><path d="M0.6 9 C-2.5 7.5 -5 8 -6.8 10.5 C-8.5 13 -9.5 15 -12 15.2 C-14 15.4 -15 14.6 -16.5 13.6" fill="none" stroke="#a8cfa2" stroke-width="1" stroke-linecap="round"/></g>
<text x="1172.5" y="475.4" font-size="21.5" fill="#000" font-weight="bold">&lt;</text>
<text x="1236" y="475.4" font-size="21.5" fill="#000" font-weight="bold">&lt;</text>
<text x="1296.5" y="475.4" font-size="21.5" fill="#000" font-weight="bold">&lt;</text>
<text x="1360" y="475.4" font-size="21.5" fill="#000" font-weight="bold">&lt;</text>
<text x="1423.5" y="475.4" font-size="21.5" fill="#000" font-weight="bold">&lt;</text>
<text x="1485" y="475.4" font-size="21.5" fill="#000" font-weight="bold">&lt;</text>
</g>
<g id="pd">
<text x="3.5" y="598.3" font-size="28" fill="#000" font-weight="bold">d</text>
<text x="40" y="597.6" font-size="25.5" fill="#000">Task conditions</text>
<text x="176.5" y="653.8" font-size="23.3" fill="#86c5ab" text-anchor="end">Distance from</text>
<text x="183.5" y="673.8" font-size="23.3" fill="#86c5ab" text-anchor="end">staging area (SA)</text>
<text x="263.5" y="665" font-size="23.3" fill="#8fd0b5" text-anchor="middle">far SA</text>
<text x="415" y="665" font-size="23.3" fill="#8fd0b5" text-anchor="middle">near SA</text>
<text x="184.3" y="711" font-size="23.3" fill="#1b7a45" text-anchor="end">Reward size</text>
<text x="226" y="704.4" font-size="23.3" fill="#1b7a45" text-anchor="middle">high</text>
<text x="226" y="723.6" font-size="23.3" fill="#1b7a45" text-anchor="middle">reward</text>
<text x="301.8" y="704.4" font-size="23.3" fill="#1b7a45" text-anchor="middle">low</text>
<text x="301.8" y="723.6" font-size="23.3" fill="#1b7a45" text-anchor="middle">reward</text>
<text x="384.6" y="704.4" font-size="23.3" fill="#1b7a45" text-anchor="middle">high</text>
<text x="384.6" y="723.6" font-size="23.3" fill="#1b7a45" text-anchor="middle">reward</text>
<text x="460.3" y="704.4" font-size="23.3" fill="#1b7a45" text-anchor="middle">low</text>
<text x="460.3" y="723.6" font-size="23.3" fill="#1b7a45" text-anchor="middle">reward</text>
<rect x="193" y="729.8" width="67" height="9.8" fill="#a9cfe4"/>
<rect x="268.5" y="729.8" width="67.5" height="9.8" fill="#c6b4dc"/>
<rect x="351.4" y="729.8" width="67" height="9.8" fill="#dcebf4"/>
<rect x="426.7" y="729.8" width="67.5" height="9.8" fill="#e7ddee"/>
<text x="193.5" y="762.5" font-size="23.3" fill="#2272ac">HR far</text>
<text x="271" y="762.5" font-size="23.3" fill="#5f3b90">LR far</text>
<text x="340" y="762.5" font-size="23.3" fill="#a9cfe4">HR near</text>
<text x="427.5" y="762.5" font-size="23.3" fill="#cbb6d9">LR near</text>
<line x1="90.2" y1="800" x2="90.2" y2="982.2" stroke="#000" stroke-width="3.2"/>
<text font-size="23.3" fill="#000" text-anchor="middle" transform="translate(75.8 886.5) rotate(-90)">group</text>
<text x="171.5" y="813" font-size="23.3" fill="#c63a30" text-anchor="end">rel</text>
<text x="177.5" y="832.2" font-size="23.3" fill="#c63a30" text-anchor="end">rank 1</text>
<text x="171.5" y="861.8" font-size="23.3" fill="#ef9a76" text-anchor="end">rel</text>
<text x="177.5" y="881" font-size="23.3" fill="#ef9a76" text-anchor="end">rank 2</text>
<text x="171.5" y="908.8" font-size="23.3" fill="#b4d33e" text-anchor="end">rel</text>
<text x="177.5" y="928" font-size="23.3" fill="#b4d33e" text-anchor="end">rank 3</text>
<text x="171.5" y="957.3" font-size="23.3" fill="#1e9a55" text-anchor="end">rel</text>
<text x="177.5" y="975.8" font-size="23.3" fill="#1e9a55" text-anchor="end">rank 4</text>
<line x1="90.2" y1="1010.8" x2="90.2" y2="1153" stroke="#000" stroke-width="3.2"/>
<text font-size="23.3" fill="#000" text-anchor="middle" transform="translate(61 1079.5) rotate(-90)">non-social</text>
<text font-size="23.3" fill="#000" text-anchor="middle" transform="translate(80.5 1079.5) rotate(-90)">control</text>
<text x="177" y="1026.8" font-size="23.3" fill="#e6c99e" text-anchor="end">totem</text>
<text x="178" y="1047" font-size="23.3" fill="#e6c99e" text-anchor="end">in SA</text>
<text x="177" y="1075.7" font-size="23.3" fill="#e6c99e" text-anchor="end">totem</text>
<text x="178" y="1095.7" font-size="23.3" fill="#e6c99e" text-anchor="end">outside</text>
<text x="177" y="1124.2" font-size="23.3" fill="#e6c99e" text-anchor="end">totem</text>
<text x="178" y="1143.8" font-size="23.3" fill="#e6c99e" text-anchor="end">in RZ</text>
<rect x="243.5" y="784.8" width="219.8" height="401.5" fill="none" stroke="#000" stroke-width="3.7" stroke-dasharray="6.6 8.05" stroke-dashoffset="3.3"/>
<rect x="360.3" y="793.8" width="20" height="30.1" fill="#f4945c"/>
<rect x="360.3" y="823.6" width="20" height="32.2" fill="#3f9f5c"/>
<rect x="360.3" y="855.5" width="20" height="4.8" fill="#8e9a8e"/>
<rect x="360.3" y="860" width="20" height="28.6" fill="#cdb184"/>
<rect x="360.3" y="888.3" width="20" height="3.8" fill="#9aa39a"/>
<rect x="360.3" y="891.8" width="20" height="31.4" fill="#6cac70"/>
<rect x="360.3" y="922.9" width="20" height="30.4" fill="#f8a880"/>
<rect x="360.3" y="953" width="20" height="4.8" fill="#b9a4a4"/>
<rect x="360.3" y="957.5" width="20" height="30.8" fill="#ee8a68"/>
<rect x="360.3" y="988" width="20" height="32.6" fill="#d6e48e"/>
<rect x="360.3" y="1020.3" width="20" height="3.6" fill="#c4c8c0"/>
<rect x="360.3" y="1023.6" width="20" height="29.4" fill="#e6d5bd"/>
<rect x="360.3" y="1052.7" width="20" height="3.6" fill="#c8ccd0"/>
<rect x="360.3" y="1056" width="20" height="29.5" fill="#e7eec2"/>
<rect x="360.3" y="1085.2" width="20" height="13.9" fill="#c9cad2"/>
<rect x="360.3" y="1098.8" width="20" height="30.5" fill="url(#gfade1)"/>
<rect x="365.8" y="1135" width="10.5" height="9.5" fill="#dcdcdc"/>
<rect x="365.8" y="1150" width="10.5" height="8" fill="#e9e9e9"/>
<rect x="365.8" y="1163.5" width="10.5" height="7.5" fill="#f4f4f4"/>
<text x="341.8" y="805.3" font-size="17.9" fill="#f0935f" text-anchor="end">Rel</text>
<text x="341.8" y="821.7" font-size="17.9" fill="#f0935f" text-anchor="end">rank 2</text>
<line x1="345.5" y1="808.2" x2="360" y2="808.2" stroke="#f0935f" stroke-width="2.4"/>
<text x="341.8" y="859.8" font-size="18.3" fill="#8c8c8c" text-anchor="end">5min break</text>
<line x1="345.5" y1="857.2" x2="360" y2="857.2" stroke="#8c8c8c" stroke-width="2.4"/>
<text x="341.8" y="877.8" font-size="17.9" fill="#d2b689" text-anchor="end">Totem</text>
<line x1="345.5" y1="874" x2="360" y2="874" stroke="#d2b689" stroke-width="2.4"/>
<text x="341.8" y="903" font-size="17.9" fill="#5dab6e" text-anchor="end">Rel</text>
<text x="341.8" y="919" font-size="17.9" fill="#5dab6e" text-anchor="end">rank 4</text>
<line x1="345.5" y1="907.6" x2="360" y2="907.6" stroke="#5dab6e" stroke-width="2.4"/>
<text x="341.8" y="967.6" font-size="17.9" fill="#ee8866" text-anchor="end">Rel</text>
<text x="341.8" y="983.2" font-size="17.9" fill="#ee8866" text-anchor="end">rank 1</text>
<line x1="345.5" y1="971.3" x2="360" y2="971.3" stroke="#ee8866" stroke-width="2.4"/>
<text x="341.8" y="1000" font-size="17.9" fill="#d6e592" text-anchor="end">Rel</text>
<text x="341.8" y="1016.5" font-size="17.9" fill="#d6e592" text-anchor="end">rank 3</text>
<line x1="345.5" y1="1003" x2="360" y2="1003" stroke="#d6e592" stroke-width="2.4"/>
<line x1="392.5" y1="793.5" x2="392.5" y2="870" stroke="#000" stroke-width="3.3" stroke-dasharray="5.6 9"/>
<text font-size="23.3" fill="#8a8a8a" transform="translate(387.6 881.2) rotate(90)">example session</text>
<path d="M392.5 1064 V1146" fill="none" stroke="url(#gfade2)" stroke-width="3.2" stroke-dasharray="6 8.6"/>
<path d="M381.5 1151.5 L404.5 1151.5 L393 1170.5 Z" fill="#e3e3e3"/>
</g>
<g id="pe">
<text x="602" y="597.3" font-size="28" fill="#000" font-weight="bold">e</text>
<text x="643.8" y="597.4" font-size="25.5" fill="#000">Example trials</text>
<text x="838" y="637" font-size="21.9" fill="#93d3bf" text-anchor="middle">Near staging area</text>
<text x="1336" y="637" font-size="21.9" fill="#4d8d73" text-anchor="middle">Far staging area</text>
<rect x="623.7" y="654.6" width="432.8" height="594.8" fill="none" stroke="#88cbb5" stroke-width="2.9" stroke-dasharray="6.8 7.9"/>
<rect x="1087.1" y="653.5" width="483.4" height="596.4" fill="none" stroke="#3f705d" stroke-width="3.1" stroke-dasharray="6.8 7.9"/>
<rect x="694.2" y="751.5" width="87.7" height="26.6" fill="url(#gt_tb)"/>
<rect x="630.6" y="777.4" width="49.6" height="48.8" fill="#c9c9c9"/>
<circle cx="655.6" cy="800.8" r="9.2" fill="#fff" stroke="#000" stroke-width="3.1"/>
<path d="M674.61 827.43 C676.25 828.04 680.92 829.91 684.42 831.07 C687.92 832.24 691.89 834.57 695.62 834.43 C699.35 834.29 702.62 833.73 706.82 830.23 C711.02 826.73 716.63 819.26 720.83 813.43 C725.03 807.59 728.67 800.83 732.03 795.22 C735.39 789.62 739.5 782.39 740.99 779.82" fill="none" stroke="#f0a3a0" stroke-width="2.5" stroke-linecap="round" stroke-linejoin="round" stroke-opacity="0.82"/>
<path d="M679.38 820.43 C679.98 821.46 680.78 825.57 683.02 826.59 C685.26 827.62 688.85 828.09 692.82 826.59 C696.79 825.1 702.15 821.69 706.82 817.63 C711.49 813.57 716.16 808.53 720.83 802.23 C725.49 795.92 732.5 783.56 734.83 779.82" fill="none" stroke="#dfe67c" stroke-width="2.5" stroke-linecap="round" stroke-linejoin="round" stroke-opacity="0.82"/>
<path d="M674.05 826.59 C676.25 826.27 682.69 826.36 687.22 824.63 C691.75 822.91 696.55 820.2 701.22 816.23 C705.89 812.26 711.26 806.89 715.22 800.83 C719.19 794.76 723.39 783.32 725.03 779.82" fill="none" stroke="#b7d46a" stroke-width="2.75" stroke-linecap="round" stroke-linejoin="round" stroke-opacity="0.82"/>
<line x1="836.2" y1="722.8" x2="836.2" y2="922.3" stroke="#231f20" stroke-width="3.2"/>
<line x1="834.6" y1="920.7" x2="1034" y2="920.7" stroke="#231f20" stroke-width="3.2"/>
<path d="M885.3 920.7 V916.7 M934.3 920.7 V916.7 M983.4 920.7 V916.7 M1032.5 920.7 V916.7 M836.2 888.35 H840.2 M836.2 856 H840.2 M836.2 823.65 H840.2 M836.2 791.3 H840.2 M836.2 758.95 H840.2 M836.2 726.6 H840.2 " fill="none" stroke="#231f20" stroke-width="2.6"/>
<text x="836.2" y="941.6" font-size="21.6" fill="#000" text-anchor="middle">0</text>
<text x="885.3" y="941.6" font-size="21.6" fill="#000" text-anchor="middle">1</text>
<text x="934.3" y="941.6" font-size="21.6" fill="#000" text-anchor="middle">2</text>
<text x="983.4" y="941.6" font-size="21.6" fill="#000" text-anchor="middle">3</text>
<text x="1032.5" y="941.6" font-size="21.6" fill="#000" text-anchor="middle">4</text>
<text x="830.3" y="926.7" font-size="21.6" fill="#000" text-anchor="end">0</text>
<text x="830.3" y="894.35" font-size="21.6" fill="#000" text-anchor="end">5</text>
<text x="830.3" y="862" font-size="21.6" fill="#000" text-anchor="end">10</text>
<text x="830.3" y="829.65" font-size="21.6" fill="#000" text-anchor="end">15</text>
<text x="830.3" y="797.3" font-size="21.6" fill="#000" text-anchor="end">20</text>
<text x="830.3" y="764.95" font-size="21.6" fill="#000" text-anchor="end">25</text>
<text x="830.3" y="732.6" font-size="21.6" fill="#000" text-anchor="end">30</text>
<text x="945.7" y="957.2" font-size="21.8" fill="#000" text-anchor="middle">Time (s)</text>
<text font-size="18.3" fill="#000" text-anchor="middle" transform="translate(800.6 821.2) rotate(-90)">Distance from entrance (cm)</text>
<path d="M855.26 724.65 C856.29 732.21 858.62 753.12 861.42 770.02 C864.22 786.92 867.96 807.83 872.07 826.03 C876.17 844.24 881.54 865.15 886.07 879.25 C890.6 893.34 897.04 905.39 899.23 910.61" fill="none" stroke="#f9cfc8" stroke-width="2.75" stroke-linecap="round" stroke-linejoin="round" stroke-opacity="0.82"/>
<path d="M856.66 747.61 C857.83 753.68 860.63 771.42 863.66 784.02 C866.7 796.63 870.67 810.16 874.87 823.23 C879.07 836.3 883.74 850.31 888.87 862.44 C894 874.58 900.77 887.42 905.67 896.05 C910.58 904.69 916.18 911.22 918.28 914.26" fill="none" stroke="#ea9290" stroke-width="2.75" stroke-linecap="round" stroke-linejoin="round" stroke-opacity="0.82"/>
<path d="M874.87 728.01 C876.03 734.08 879.07 751.35 881.87 764.42 C884.67 777.49 888.17 792.89 891.67 806.43 C895.17 819.96 899.14 833.5 902.87 845.64 C906.61 857.77 910.58 870.38 914.08 879.25 C917.58 888.12 921.08 894.65 923.88 898.85 C926.68 903.05 928.55 904.08 930.88 904.45 C933.21 904.83 936.72 901.65 937.88 901.09" fill="none" stroke="#e1e97e" stroke-width="2.75" stroke-linecap="round" stroke-linejoin="round" stroke-opacity="0.82"/>
<path d="M866.46 744.81 C869.73 751.81 880.47 774.69 886.07 786.82 C891.67 798.96 894.94 806.89 900.07 817.63 C905.21 828.37 911.28 841.9 916.88 851.24 C922.48 860.58 928.55 866.64 933.68 873.65 C938.82 880.65 943.95 887.65 947.69 893.25 C951.42 898.85 953.66 904.22 956.09 907.25 C958.51 910.29 961.22 910.75 962.25 911.45" fill="none" stroke="#b4d15c" stroke-width="3" stroke-linecap="round" stroke-linejoin="round" stroke-opacity="0.82"/>
<rect x="658.6" y="1098.3" width="25.3" height="87.4" fill="url(#gt_lr)"/>
<path d="M690 1028 L744.1 1028 L744.1 1071.7 L733.6 1081.2 L690 1081.2 Z" fill="#c9c9c9"/>
<circle cx="717.2" cy="1053.2" r="9.2" fill="#fff" stroke="#000" stroke-width="3.1"/>
<path d="M745.47 1082.03 C745.1 1083.9 746.41 1089.96 743.23 1093.23 C740.06 1096.5 733.43 1099.77 726.43 1101.63 C719.43 1103.5 707.76 1102.57 701.22 1104.43 C694.69 1106.3 690.25 1110.04 687.22 1112.84 C684.18 1115.64 683.72 1119.84 683.02 1121.24" fill="none" stroke="#f6b5a5" stroke-width="2.5" stroke-linecap="round" stroke-linejoin="round" stroke-opacity="0.82"/>
<path d="M746.03 1087.63 C744.63 1090.43 743.23 1099.3 737.63 1104.43 C732.03 1109.57 722.93 1114.7 712.42 1118.44 C701.92 1122.17 680.92 1125.44 674.61 1126.84" fill="none" stroke="#ee918a" stroke-width="2.75" stroke-linecap="round" stroke-linejoin="round" stroke-opacity="0.82"/>
<path d="M747.43 1093.23 C746.27 1096.97 746.27 1109.34 740.43 1115.64 C734.6 1121.94 723.39 1126.98 712.42 1131.04 C701.45 1135.1 680.92 1138.51 674.61 1140" fill="none" stroke="#eeb274" stroke-width="2.75" stroke-linecap="round" stroke-linejoin="round" stroke-opacity="0.82"/>
<path d="M745.47 1071.39 C745.8 1074.09 745.94 1083.06 747.43 1087.63 C748.93 1092.21 753.36 1095.1 754.43 1098.83 C755.51 1102.57 756.68 1104.43 753.87 1110.04 C751.07 1115.64 745.94 1125.91 737.63 1132.44 C729.32 1138.98 714.52 1144.95 704.02 1149.25 C693.52 1153.54 679.52 1156.72 674.61 1158.21" fill="none" stroke="#e4e062" stroke-width="2.75" stroke-linecap="round" stroke-linejoin="round" stroke-opacity="0.82"/>
<line x1="836.2" y1="988.8" x2="836.2" y2="1201.8" stroke="#231f20" stroke-width="3.2"/>
<line x1="834.6" y1="1200.2" x2="1047.2" y2="1200.2" stroke="#231f20" stroke-width="3.2"/>
<path d="M888.8 1200.2 V1196.2 M941.3 1200.2 V1196.2 M993.8 1200.2 V1196.2 M1045.8 1200.2 V1196.2 M836.2 1165.3 H840.2 M836.2 1130.4 H840.2 M836.2 1095.5 H840.2 M836.2 1060.6 H840.2 M836.2 1025.7 H840.2 M836.2 990.8 H840.2 " fill="none" stroke="#231f20" stroke-width="2.6"/>
<text x="836.2" y="1220.8" font-size="21.6" fill="#000" text-anchor="middle">0</text>
<text x="888.8" y="1220.8" font-size="21.6" fill="#000" text-anchor="middle">1</text>
<text x="941.3" y="1220.8" font-size="21.6" fill="#000" text-anchor="middle">2</text>
<text x="993.8" y="1220.8" font-size="21.6" fill="#000" text-anchor="middle">3</text>
<text x="1045.8" y="1220.8" font-size="21.6" fill="#000" text-anchor="middle">4</text>
<text x="830.3" y="1206.2" font-size="21.6" fill="#000" text-anchor="end">0</text>
<text x="830.3" y="1171.3" font-size="21.6" fill="#000" text-anchor="end">5</text>
<text x="830.3" y="1136.4" font-size="21.6" fill="#000" text-anchor="end">10</text>
<text x="830.3" y="1101.5" font-size="21.6" fill="#000" text-anchor="end">15</text>
<text x="830.3" y="1066.6" font-size="21.6" fill="#000" text-anchor="end">20</text>
<text x="830.3" y="1031.7" font-size="21.6" fill="#000" text-anchor="end">25</text>
<text x="830.3" y="996.8" font-size="21.6" fill="#000" text-anchor="end">30</text>
<text x="954" y="1239" font-size="21.8" fill="#000" text-anchor="middle">Time (s)</text>
<text font-size="18.3" fill="#000" text-anchor="middle" transform="translate(800.6 1101.6) rotate(-90)">Distance from entrance (cm)</text>
<path d="M867.86 1059.62 C870.43 1062.89 878.37 1071.29 883.27 1079.23 C888.17 1087.16 892.6 1097.43 897.27 1107.24 C901.94 1117.04 906.61 1127.77 911.28 1138.04 C915.94 1148.31 920.61 1160.68 925.28 1168.85 C929.95 1177.02 935.08 1182.86 939.28 1187.06 C943.48 1191.26 948.62 1192.89 950.49 1194.06" fill="none" stroke="#f6baa2" stroke-width="2.75" stroke-linecap="round" stroke-linejoin="round" stroke-opacity="0.82"/>
<path d="M872.91 1046.18 C874.17 1052.15 877.34 1069.52 880.47 1082.03 C883.6 1094.54 887.47 1108.64 891.67 1121.24 C895.87 1133.84 901.47 1147.38 905.67 1157.65 C909.88 1167.92 913.7 1176.79 916.88 1182.86 C920.05 1188.92 923.41 1192.19 924.72 1194.06" fill="none" stroke="#ea9292" stroke-width="2.75" stroke-linecap="round" stroke-linejoin="round" stroke-opacity="0.82"/>
<path d="M883.27 1030.22 C884.67 1035.58 888.4 1051.92 891.67 1062.42 C894.94 1072.93 898.67 1083.43 902.87 1093.23 C907.07 1103.03 912.21 1112.84 916.88 1121.24 C921.55 1129.64 925.75 1136.64 930.88 1143.65 C936.02 1150.65 942.55 1156.72 947.69 1163.25 C952.82 1169.79 959.35 1179.59 961.69 1182.86" fill="none" stroke="#dfe18c" stroke-width="3" stroke-linecap="round" stroke-linejoin="round" stroke-opacity="0.82"/>
<path d="M873.47 1000.81 C874.63 1005.94 877.43 1019.95 880.47 1031.62 C883.5 1043.29 887.47 1058.69 891.67 1070.83 C895.87 1082.96 900.54 1093.7 905.67 1104.43 C910.81 1115.17 916.88 1126.84 922.48 1135.24 C928.08 1143.65 936.48 1151.58 939.28 1154.85" fill="none" stroke="#eef1a4" stroke-width="2.75" stroke-linecap="round" stroke-linejoin="round" stroke-opacity="0.82"/>
<path d="M939.28 1154.85 C941.38 1156.72 948.39 1161.85 951.89 1166.05 C955.39 1170.25 957.95 1176.32 960.29 1180.05 C962.62 1183.79 964.16 1186.87 965.89 1188.46 C967.62 1190.04 968.78 1191.35 970.65 1189.58 C972.52 1187.8 976.02 1179.77 977.09 1177.81" fill="none" stroke="#e0c93a" stroke-width="4" stroke-linecap="round" stroke-linejoin="round" stroke-opacity="0.82"/>
<rect x="1207.3" y="916.6" width="86.9" height="27.5" fill="url(#gt_bt)"/>
<rect x="1151.9" y="706.5" width="49" height="49.1" fill="#cbcbcf"/>
<circle cx="1176.4" cy="729.8" r="9.2" fill="#fff" stroke="#000" stroke-width="3.1"/>
<path d="M1200.31 747.29 C1201.63 750.47 1206.56 754.71 1208.26 766.38 C1209.96 778.05 1209.59 798.21 1210.49 817.31 C1211.39 836.4 1212.61 864.41 1213.67 880.96 C1214.73 897.51 1216.33 910.67 1216.86 916.61" fill="none" stroke="#d2e9a4" stroke-width="2.25" stroke-linecap="round" stroke-linejoin="round" stroke-opacity="0.82"/>
<path d="M1194.58 755.25 C1196.7 758.69 1202.53 764.53 1207.31 775.93 C1212.08 787.34 1218.45 807.23 1223.22 823.67 C1227.99 840.12 1232.24 859.11 1235.95 874.6 C1239.66 890.08 1243.91 909.61 1245.5 916.61" fill="none" stroke="#f9cbc3" stroke-width="2.25" stroke-linecap="round" stroke-linejoin="round" stroke-opacity="0.82"/>
<path d="M1200.94 748.88 C1203.59 752.86 1211.02 761.35 1216.86 772.75 C1222.69 784.15 1230.12 800.33 1235.95 817.31 C1241.79 834.28 1247.52 858.05 1251.87 874.6 C1256.21 891.15 1260.35 909.61 1262.05 916.61" fill="none" stroke="#e8ec92" stroke-width="2.25" stroke-linecap="round" stroke-linejoin="round" stroke-opacity="0.82"/>
<path d="M1196.17 760.66 C1197.76 761.19 1202.27 762.62 1205.72 763.84 C1209.16 765.06 1212.88 764.37 1216.86 767.98 C1220.83 771.58 1224.28 776.2 1229.59 785.48 C1234.89 794.76 1242.32 809.35 1248.68 823.67 C1255.05 837.99 1261.94 855.92 1267.78 871.41 C1273.61 886.9 1281.04 909.07 1283.69 916.61" fill="none" stroke="#5eb68c" stroke-width="3.25" stroke-linecap="round" stroke-linejoin="round" stroke-opacity="0.82"/>
<line x1="1356.3" y1="722.6" x2="1356.3" y2="922.3" stroke="#231f20" stroke-width="3.2"/>
<line x1="1354.7" y1="920.7" x2="1554.2" y2="920.7" stroke="#231f20" stroke-width="3.2"/>
<path d="M1405.4 920.7 V916.7 M1454.5 920.7 V916.7 M1503.5 920.7 V916.7 M1552.6 920.7 V916.7 M1356.3 881.5 H1360.3 M1356.3 842.3 H1360.3 M1356.3 803.1 H1360.3 M1356.3 763.9 H1360.3 M1356.3 724.7 H1360.3 " fill="none" stroke="#231f20" stroke-width="2.6"/>
<text x="1356.3" y="940" font-size="21.6" fill="#000" text-anchor="middle">0</text>
<text x="1405.4" y="940" font-size="21.6" fill="#000" text-anchor="middle">1</text>
<text x="1454.5" y="940" font-size="21.6" fill="#000" text-anchor="middle">2</text>
<text x="1503.5" y="940" font-size="21.6" fill="#000" text-anchor="middle">3</text>
<text x="1552.6" y="940" font-size="21.6" fill="#000" text-anchor="middle">4</text>
<text x="1350.6" y="926.7" font-size="21.6" fill="#000" text-anchor="end">0</text>
<text x="1350.6" y="887.5" font-size="21.6" fill="#000" text-anchor="end">10</text>
<text x="1350.6" y="848.3" font-size="21.6" fill="#000" text-anchor="end">20</text>
<text x="1350.6" y="809.1" font-size="21.6" fill="#000" text-anchor="end">30</text>
<text x="1350.6" y="769.9" font-size="21.6" fill="#000" text-anchor="end">40</text>
<text x="1350.6" y="730.7" font-size="21.6" fill="#000" text-anchor="end">50</text>
<text x="1462.7" y="951.7" font-size="21.8" fill="#000" text-anchor="middle">Time (s)</text>
<text font-size="18.3" fill="#000" text-anchor="middle" transform="translate(1324.4 827.6) rotate(-90)">Distance from entrance (cm)</text>
<path d="M1385.54 744.11 C1387.13 752.59 1391.37 778.05 1395.09 795.03 C1398.8 812 1404.1 830.57 1407.82 845.95 C1411.53 861.33 1414.45 876.45 1417.36 887.33 C1420.28 898.2 1423.31 906 1425.32 911.2 C1427.34 916.4 1428.77 917.3 1429.46 918.52" fill="none" stroke="#f9d1ca" stroke-width="2.75" stroke-linecap="round" stroke-linejoin="round" stroke-opacity="0.82"/>
<path d="M1390.31 750.47 C1392.17 760.55 1397.47 793.44 1401.45 810.94 C1405.43 828.45 1409.41 841.71 1414.18 855.5 C1418.96 869.29 1425.32 884.14 1430.1 893.69 C1434.87 903.24 1440.7 909.61 1442.83 912.79" fill="none" stroke="#e2eba4" stroke-width="2.75" stroke-linecap="round" stroke-linejoin="round" stroke-opacity="0.82"/>
<path d="M1395.72 737.74 C1397.21 745.7 1401.56 770.63 1404.63 785.48 C1407.71 800.33 1410.47 812.53 1414.18 826.86 C1417.9 841.18 1422.67 859.74 1426.91 871.41 C1431.16 883.08 1434.87 889.98 1439.64 896.87 C1444.42 903.77 1450.78 908.97 1455.56 912.79 C1460.33 916.61 1466.17 918.62 1468.29 919.79" fill="none" stroke="#e6eb84" stroke-width="2.75" stroke-linecap="round" stroke-linejoin="round" stroke-opacity="0.82"/>
<path d="M1414.82 732.97 C1416.04 739.6 1419.06 757.63 1422.14 772.75 C1425.22 787.87 1429.3 807.76 1433.28 823.67 C1437.26 839.59 1441.77 856.56 1446.01 868.23 C1450.25 879.9 1454.5 887.86 1458.74 893.69 C1462.98 899.53 1467.23 900.85 1471.47 903.24 C1475.71 905.63 1480.49 905.89 1484.2 908.01 C1487.91 910.14 1491.2 913.9 1493.75 915.97 C1496.3 918.04 1498.52 919.68 1499.48 920.43" fill="none" stroke="#5ab18c" stroke-width="3.5" stroke-linecap="round" stroke-linejoin="round" stroke-opacity="0.82"/>
<rect x="1279.9" y="1069.3" width="22.9" height="87.5" fill="url(#gt_rl)"/>
<rect x="1101" y="1027.9" width="50.9" height="51.3" fill="#cbcbcf"/>
<circle cx="1126.5" cy="1052.1" r="9.2" fill="#fff" stroke="#000" stroke-width="3.1"/>
<path d="M1145.25 1060.71 C1146.57 1062.56 1148.16 1068.4 1153.2 1071.85 C1158.24 1075.29 1163.81 1079.01 1175.48 1081.39 C1187.15 1083.78 1205.19 1085.11 1223.22 1086.17 C1241.26 1087.23 1273.61 1087.49 1283.69 1087.76" fill="none" stroke="#e8ec84" stroke-width="2.75" stroke-linecap="round" stroke-linejoin="round" stroke-opacity="0.82"/>
<path d="M1140.47 1073.44 C1144.18 1076.09 1151.61 1085.37 1162.75 1089.35 C1173.89 1093.33 1193.52 1095.56 1207.31 1097.31 C1221.1 1099.06 1232.77 1099.43 1245.5 1099.85 C1258.23 1100.28 1277.33 1099.85 1283.69 1099.85" fill="none" stroke="#f8bcb4" stroke-width="2.5" stroke-linecap="round" stroke-linejoin="round" stroke-opacity="0.82"/>
<path d="M1138.88 1073.44 C1143.39 1076.89 1154.53 1087.76 1165.93 1094.12 C1177.34 1100.49 1192.45 1106.59 1207.31 1111.63 C1222.16 1116.67 1241.79 1121.28 1255.05 1124.36 C1268.31 1127.44 1281.57 1129.13 1286.87 1130.09" fill="none" stroke="#ee9494" stroke-width="2.5" stroke-linecap="round" stroke-linejoin="round" stroke-opacity="0.82"/>
<path d="M1142.06 1071.85 C1146.57 1075.03 1158.24 1084.31 1169.12 1090.94 C1179.99 1097.57 1192.99 1105.26 1207.31 1111.63 C1221.63 1117.99 1241.26 1124.63 1255.05 1129.13 C1268.84 1133.64 1284.22 1137.09 1290.06 1138.68" fill="none" stroke="#b9d964" stroke-width="2.75" stroke-linecap="round" stroke-linejoin="round" stroke-opacity="0.82"/>
<line x1="1356.3" y1="1000.8" x2="1356.3" y2="1206.2" stroke="#231f20" stroke-width="3.2"/>
<line x1="1354.7" y1="1204.6" x2="1559.9" y2="1204.6" stroke="#231f20" stroke-width="3.2"/>
<path d="M1406.9 1204.6 V1200.6 M1457.2 1204.6 V1200.6 M1508 1204.6 V1200.6 M1558.4 1204.6 V1200.6 M1356.3 1164.24 H1360.3 M1356.3 1123.88 H1360.3 M1356.3 1083.52 H1360.3 M1356.3 1043.16 H1360.3 M1356.3 1002.8 H1360.3 " fill="none" stroke="#231f20" stroke-width="2.6"/>
<text x="1356.3" y="1225.8" font-size="21.6" fill="#000" text-anchor="middle">0</text>
<text x="1406.9" y="1225.8" font-size="21.6" fill="#000" text-anchor="middle">1</text>
<text x="1457.2" y="1225.8" font-size="21.6" fill="#000" text-anchor="middle">2</text>
<text x="1508" y="1225.8" font-size="21.6" fill="#000" text-anchor="middle">3</text>
<text x="1558.4" y="1225.8" font-size="21.6" fill="#000" text-anchor="middle">4</text>
<text x="1350.6" y="1210.6" font-size="21.6" fill="#000" text-anchor="end">0</text>
<text x="1350.6" y="1170.24" font-size="21.6" fill="#000" text-anchor="end">10</text>
<text x="1350.6" y="1129.88" font-size="21.6" fill="#000" text-anchor="end">20</text>
<text x="1350.6" y="1089.52" font-size="21.6" fill="#000" text-anchor="end">30</text>
<text x="1350.6" y="1049.16" font-size="21.6" fill="#000" text-anchor="end">40</text>
<text x="1350.6" y="1008.8" font-size="21.6" fill="#000" text-anchor="end">50</text>
<text x="1467.2" y="1244.5" font-size="21.8" fill="#000" text-anchor="middle">Time (s)</text>
<text font-size="18.3" fill="#000" text-anchor="middle" transform="translate(1324.4 1102.5) rotate(-90)">Distance from entrance (cm)</text>
<path d="M1386.17 1012.97 C1387.39 1020.66 1390.42 1042.41 1393.49 1059.12 C1396.57 1075.82 1400.66 1096.78 1404.63 1113.22 C1408.61 1129.66 1413.65 1145.58 1417.36 1157.78 C1421.08 1169.98 1424.53 1179.42 1426.91 1186.42 C1429.3 1193.42 1430.89 1197.56 1431.69 1199.79" fill="none" stroke="#f2a3aa" stroke-width="3" stroke-linecap="round" stroke-linejoin="round" stroke-opacity="0.82"/>
<path d="M1396.04 1030.47 C1397.47 1037.9 1401.08 1059.65 1404.63 1075.03 C1408.19 1090.41 1413.12 1108.45 1417.36 1122.77 C1421.61 1137.09 1425.85 1149.82 1430.1 1160.96 C1434.34 1172.1 1439.38 1183.13 1442.83 1189.61 C1446.27 1196.08 1449.46 1198.09 1450.78 1199.79" fill="none" stroke="#f2b274" stroke-width="3" stroke-linecap="round" stroke-linejoin="round" stroke-opacity="0.82"/>
<path d="M1446.01 1189.61 C1447.34 1190.29 1451.31 1193.48 1453.97 1193.74 C1456.62 1194.01 1460.6 1191.62 1461.92 1191.2" fill="none" stroke="#e6e66a" stroke-width="3" stroke-linecap="round" stroke-linejoin="round" stroke-opacity="0.82"/>
<path d="M1412.59 1005.65 C1414.18 1011.91 1418.16 1027.92 1422.14 1043.2 C1426.12 1058.48 1431.95 1080.86 1436.46 1097.31 C1440.97 1113.75 1444.95 1128.6 1449.19 1141.87 C1453.44 1155.13 1457.68 1167.59 1461.92 1176.87 C1466.17 1186.16 1471.21 1193.42 1474.65 1197.56 C1478.1 1201.7 1481.28 1201.01 1482.61 1201.7" fill="none" stroke="#c1dd64" stroke-width="3" stroke-linecap="round" stroke-linejoin="round" stroke-opacity="0.82"/>
<rect x="1590.5" y="804.3" width="17.7" height="38.02" fill="#d73027"/>
<text x="1612.8" y="828.02" font-size="20.5" fill="#d73027">1</text>
<rect x="1590.5" y="842.02" width="17.7" height="38.02" fill="#f4875a"/>
<text x="1612.8" y="867.42" font-size="20.5" fill="#f4875a">2</text>
<rect x="1590.5" y="879.74" width="17.7" height="38.02" fill="#d9a827"/>
<text x="1612.8" y="906.82" font-size="20.5" fill="#d9a827">3</text>
<rect x="1590.5" y="917.46" width="17.7" height="38.02" fill="#d6d92a"/>
<text x="1612.8" y="946.22" font-size="20.5" fill="#d6d92a">4</text>
<rect x="1590.5" y="955.18" width="17.7" height="38.02" fill="#b2d235"/>
<text x="1612.8" y="985.62" font-size="20.5" fill="#b2d235">5</text>
<rect x="1590.5" y="992.9" width="17.7" height="38.02" fill="#8cc665"/>
<text x="1612.8" y="1025.02" font-size="20.5" fill="#8cc665">6</text>
<rect x="1590.5" y="1030.62" width="17.7" height="38.02" fill="#1a9850"/>
<text x="1612.8" y="1064.42" font-size="20.5" fill="#1a9850">7</text>
<text font-size="21.8" fill="#000" text-anchor="middle" transform="translate(1649.5 948.5) rotate(-90)">Absolute rank</text>
</g>
<g id="pf">
<line x1="52" y1="1295.7" x2="504" y2="1295.7" stroke="#939393" stroke-width="3.6" stroke-dasharray="11.6 10.4"/>
<line x1="1180" y1="1295.7" x2="1606" y2="1295.7" stroke="#939393" stroke-width="3.6" stroke-dasharray="11.6 10.4"/>
<text x="840.6" y="1301.3" font-size="25.6" fill="#000" text-anchor="middle">Relation between reaction time and competitive success</text>
<text x="63" y="1364" font-size="28" fill="#000" font-weight="bold">f</text>
<rect x="157.7" y="1375.2" width="69.78" height="69.75" fill="#f9ae95"/>
<rect x="227.08" y="1375.2" width="69.78" height="69.75" fill="#f8977c"/>
<rect x="296.46" y="1375.2" width="69.78" height="69.75" fill="#f67659"/>
<rect x="365.84" y="1375.2" width="69.78" height="69.75" fill="#f56e51"/>
<rect x="227.08" y="1444.55" width="69.78" height="69.75" fill="#f89075"/>
<rect x="296.46" y="1444.55" width="69.78" height="69.75" fill="#f78469"/>
<rect x="365.84" y="1444.55" width="69.78" height="69.75" fill="#f25e45"/>
<rect x="435.22" y="1444.55" width="69.78" height="69.75" fill="#ed4433"/>
<rect x="296.46" y="1513.9" width="69.78" height="69.75" fill="#ef4b39"/>
<rect x="365.84" y="1513.9" width="69.78" height="69.75" fill="#ee4736"/>
<rect x="435.22" y="1513.9" width="69.78" height="69.75" fill="#eb3c2f"/>
<rect x="504.6" y="1513.9" width="69.78" height="69.75" fill="#cf2123"/>
<rect x="365.84" y="1583.25" width="69.78" height="69.75" fill="#d72826"/>
<rect x="435.22" y="1583.25" width="69.78" height="69.75" fill="#cc1e21"/>
<rect x="504.6" y="1583.25" width="69.78" height="69.75" fill="#c51a1f"/>
<rect x="573.98" y="1583.25" width="69.78" height="69.75" fill="#630810"/>
<rect x="157.7" y="1652.6" width="69.78" height="69.75" fill="#f88e73"/>
<rect x="227.08" y="1652.6" width="69.78" height="69.75" fill="#f67b5f"/>
<rect x="296.46" y="1652.6" width="69.78" height="69.75" fill="#f67558"/>
<rect x="365.84" y="1652.6" width="69.78" height="69.75" fill="#f89175"/>
<rect x="435.22" y="1652.6" width="69.78" height="69.75" fill="#f67e62"/>
<rect x="504.6" y="1652.6" width="69.78" height="69.75" fill="#f7896e"/>
<rect x="573.98" y="1652.6" width="69.78" height="69.75" fill="#f89176"/>
<g fill="#fff" fill-opacity="0.9" font-size="18.2" text-anchor="middle">
<text x="197.39" y="1406.67">1.865</text>
<text x="198.59" y="1424.67">+/-0.55</text>
<text x="266.77" y="1406.67">2.089</text>
<text x="267.97" y="1424.67">+/-0.63</text>
<text x="336.15" y="1406.67">2.404</text>
<text x="337.35" y="1424.67">+/-0.67</text>
<text x="405.53" y="1406.67">2.478</text>
<text x="406.73" y="1424.67">+/-0.57</text>
<text x="266.77" y="1476.03">2.154</text>
<text x="267.97" y="1494.03">+/-0.62</text>
<text x="336.15" y="1476.03">2.266</text>
<text x="337.35" y="1494.03">+/-0.68</text>
<text x="405.53" y="1476.03">2.612</text>
<text x="406.73" y="1494.03">+/-0.71</text>
<text x="474.91" y="1476.03">2.823</text>
<text x="476.11" y="1494.03">+/-0.7</text>
<text x="336.15" y="1545.38">2.761</text>
<text x="337.35" y="1563.38">+/-0.76</text>
<text x="405.53" y="1545.38">2.794</text>
<text x="406.73" y="1563.38">+/-0.75</text>
<text x="474.91" y="1545.38">2.881</text>
<text x="476.11" y="1563.38">+/-0.76</text>
<text x="544.29" y="1545.38">3.186</text>
<text x="545.49" y="1563.38">+/-0.83</text>
<text x="405.53" y="1614.72">3.104</text>
<text x="406.73" y="1632.72">+/-0.7</text>
<text x="474.91" y="1614.72">3.22</text>
<text x="476.11" y="1632.72">+/-0.72</text>
<text x="544.29" y="1614.72">3.289</text>
<text x="545.49" y="1632.72">+/-0.82</text>
<text x="613.67" y="1614.72">4.008</text>
<text x="614.87" y="1632.72">+/-0.99</text>
<text x="197.39" y="1684.08">2.173</text>
<text x="198.59" y="1702.08">+/-0.54</text>
<text x="266.77" y="1684.08">2.353</text>
<text x="267.97" y="1702.08">+/-0.73</text>
<text x="336.15" y="1684.08">2.416</text>
<text x="337.35" y="1702.08">+/-0.74</text>
<text x="405.53" y="1684.08">2.149</text>
<text x="406.73" y="1702.08">+/-0.54</text>
<text x="474.91" y="1684.08">2.325</text>
<text x="476.11" y="1702.08">+/-0.7</text>
<text x="544.29" y="1684.08">2.218</text>
<text x="545.49" y="1702.08">+/-0.66</text>
<text x="613.67" y="1684.08">2.143</text>
<text x="614.87" y="1702.08">+/-0.6</text>
</g>
<line x1="158.9" y1="1377.3" x2="158.9" y2="1588.4" stroke="#231f20" stroke-width="3.3"/>
<path d="M158.9 1378.9 H165.4 M158.9 1448.2 H165.4 M158.9 1517.5 H165.4 M158.9 1586.8 H165.4 " fill="none" stroke="#231f20" stroke-width="2.6"/>
<text x="151.3" y="1383.7" font-size="20.5" fill="#000" text-anchor="end">1</text>
<text x="151.3" y="1454.8" font-size="20.5" fill="#000" text-anchor="end">2</text>
<text x="151.3" y="1524.1" font-size="20.5" fill="#000" text-anchor="end">3</text>
<text x="151.3" y="1593.4" font-size="20.5" fill="#000" text-anchor="end">4</text>
<text font-size="21.8" fill="#000" text-anchor="middle" transform="translate(130.5 1462.5) rotate(-90)">Relative rank</text>
<text font-size="21.8" fill="#9a9a9a" text-anchor="middle" transform="translate(144.5 1688) rotate(-90)">Alone</text>
<line x1="156" y1="1722.6" x2="645" y2="1722.6" stroke="#231f20" stroke-width="3"/>
<path d="M192.39 1722.6 V1717.1 M261.77 1722.6 V1717.1 M331.15 1722.6 V1717.1 M400.53 1722.6 V1717.1 M469.91 1722.6 V1717.1 M539.29 1722.6 V1717.1 M608.67 1722.6 V1717.1 " fill="none" stroke="#231f20" stroke-width="2.6"/>
<text x="192.39" y="1743" font-size="20.5" fill="#c1272d" text-anchor="middle">1</text>
<text x="261.77" y="1743" font-size="20.5" fill="#ea8e62" text-anchor="middle">2</text>
<text x="331.15" y="1743" font-size="20.5" fill="#d6bd33" text-anchor="middle">3</text>
<text x="400.53" y="1743" font-size="20.5" fill="#d5dc2c" text-anchor="middle">4</text>
<text x="469.91" y="1743" font-size="20.5" fill="#b5d23a" text-anchor="middle">5</text>
<text x="539.29" y="1743" font-size="20.5" fill="#8fc866" text-anchor="middle">6</text>
<text x="608.67" y="1743" font-size="20.5" fill="#1d9651" text-anchor="middle">7</text>
<text x="393" y="1766.5" font-size="21.8" fill="#000" text-anchor="middle">Absolute rank</text>
<rect x="662.4" y="1343.8" width="14.2" height="347" fill="url(#gr1)"/>
<line x1="676.6" y1="1343" x2="676.6" y2="1692" stroke="#231f20" stroke-width="2.6"/>
<line x1="672.1" y1="1344.8" x2="677.9" y2="1344.8" stroke="#231f20" stroke-width="2.6"/>
<text x="680.8" y="1351.6" font-size="20.5" fill="#000">4</text>
<line x1="672.1" y1="1459.93" x2="677.9" y2="1459.93" stroke="#231f20" stroke-width="2.6"/>
<text x="680.8" y="1466.73" font-size="20.5" fill="#000">3</text>
<line x1="672.1" y1="1575.07" x2="677.9" y2="1575.07" stroke="#231f20" stroke-width="2.6"/>
<text x="680.8" y="1581.87" font-size="20.5" fill="#000">2</text>
<line x1="672.1" y1="1690.2" x2="677.9" y2="1690.2" stroke="#231f20" stroke-width="2.6"/>
<text x="680.8" y="1697" font-size="20.5" fill="#000">1</text>
<text font-size="21.8" fill="#000" text-anchor="middle" transform="translate(724.5 1532) rotate(-90)">Latency to reach reward zone (s)</text>
<rect x="870.8" y="1344.6" width="87.12" height="86.9" fill="#fabaa2"/>
<rect x="957.52" y="1344.6" width="87.12" height="86.9" fill="#f9af96"/>
<rect x="1044.24" y="1344.6" width="87.12" height="86.9" fill="#f89c81"/>
<rect x="1130.96" y="1344.6" width="87.12" height="86.9" fill="#f78b70"/>
<rect x="957.52" y="1431.1" width="87.12" height="86.9" fill="#f8967b"/>
<rect x="1044.24" y="1431.1" width="87.12" height="86.9" fill="#f88f74"/>
<rect x="1130.96" y="1431.1" width="87.12" height="86.9" fill="#f67f63"/>
<rect x="1217.68" y="1431.1" width="87.12" height="86.9" fill="#f67e62"/>
<rect x="1044.24" y="1517.6" width="87.12" height="86.9" fill="#f25e46"/>
<rect x="1130.96" y="1517.6" width="87.12" height="86.9" fill="#f35f46"/>
<rect x="1217.68" y="1517.6" width="87.12" height="86.9" fill="#f25a43"/>
<rect x="1304.4" y="1517.6" width="87.12" height="86.9" fill="#f0503c"/>
<rect x="1130.96" y="1604.1" width="87.12" height="86.9" fill="#db2d28"/>
<rect x="1217.68" y="1604.1" width="87.12" height="86.9" fill="#d82926"/>
<rect x="1304.4" y="1604.1" width="87.12" height="86.9" fill="#d72926"/>
<rect x="1391.12" y="1604.1" width="87.12" height="86.9" fill="#cd1f22"/>
<g fill="#fff" fill-opacity="0.9" font-size="18.2" text-anchor="middle">
<text x="919.16" y="1384.65">1.753</text>
<text x="920.36" y="1402.65">+/-0.37</text>
<text x="1005.88" y="1384.65">1.856</text>
<text x="1007.08" y="1402.65">+/-0.39</text>
<text x="1092.6" y="1384.65">2.041</text>
<text x="1093.8" y="1402.65">+/-0.39</text>
<text x="1179.32" y="1384.65">2.202</text>
<text x="1180.52" y="1402.65">+/-0.4</text>
<text x="1005.88" y="1471.15">2.099</text>
<text x="1007.08" y="1489.15">+/-0.38</text>
<text x="1092.6" y="1471.15">2.166</text>
<text x="1093.8" y="1489.15">+/-0.38</text>
<text x="1179.32" y="1471.15">2.32</text>
<text x="1180.52" y="1489.15">+/-0.39</text>
<text x="1266.04" y="1471.15">2.33</text>
<text x="1267.24" y="1489.15">+/-0.39</text>
<text x="1092.6" y="1557.65">2.61</text>
<text x="1093.8" y="1575.65">+/-0.39</text>
<text x="1179.32" y="1557.65">2.6</text>
<text x="1180.52" y="1575.65">+/-0.39</text>
<text x="1266.04" y="1557.65">2.64</text>
<text x="1267.24" y="1575.65">+/-0.39</text>
<text x="1352.76" y="1557.65">2.721</text>
<text x="1353.96" y="1575.65">+/-0.4</text>
<text x="1179.32" y="1644.15">3.052</text>
<text x="1180.52" y="1662.15">+/-0.39</text>
<text x="1266.04" y="1644.15">3.092</text>
<text x="1267.24" y="1662.15">+/-0.34</text>
<text x="1352.76" y="1644.15">3.098</text>
<text x="1353.96" y="1662.15">+/-0.38</text>
<text x="1439.48" y="1644.15">3.208</text>
<text x="1440.68" y="1662.15">+/-0.36</text>
</g>
<line x1="871.3" y1="1385" x2="871.3" y2="1648.9" stroke="#231f20" stroke-width="3.3"/>
<path d="M871.3 1386.6 H877.8 M871.3 1473.5 H877.8 M871.3 1560.4 H877.8 M871.3 1647.3 H877.8 " fill="none" stroke="#231f20" stroke-width="2.6"/>
<text x="863.5" y="1393.2" font-size="20.5" fill="#000" text-anchor="end">1</text>
<text x="863.5" y="1480.1" font-size="20.5" fill="#000" text-anchor="end">2</text>
<text x="863.5" y="1567" font-size="20.5" fill="#000" text-anchor="end">3</text>
<text x="863.5" y="1653.9" font-size="20.5" fill="#000" text-anchor="end">4</text>
<text font-size="21.8" fill="#000" text-anchor="middle" transform="translate(847.5 1511.5) rotate(-90)">Relative rank</text>
<line x1="869" y1="1690.4" x2="1479" y2="1690.4" stroke="#231f20" stroke-width="3"/>
<path d="M914.16 1690.4 V1684.9 M1000.88 1690.4 V1684.9 M1087.6 1690.4 V1684.9 M1174.32 1690.4 V1684.9 M1261.04 1690.4 V1684.9 M1347.76 1690.4 V1684.9 M1434.48 1690.4 V1684.9 " fill="none" stroke="#231f20" stroke-width="2.6"/>
<text x="914.16" y="1710.8" font-size="20.5" fill="#c1272d" text-anchor="middle">1</text>
<text x="1000.88" y="1710.8" font-size="20.5" fill="#ea8e62" text-anchor="middle">2</text>
<text x="1087.6" y="1710.8" font-size="20.5" fill="#d6bd33" text-anchor="middle">3</text>
<text x="1174.32" y="1710.8" font-size="20.5" fill="#d5dc2c" text-anchor="middle">4</text>
<text x="1261.04" y="1710.8" font-size="20.5" fill="#b5d23a" text-anchor="middle">5</text>
<text x="1347.76" y="1710.8" font-size="20.5" fill="#8fc866" text-anchor="middle">6</text>
<text x="1434.48" y="1710.8" font-size="20.5" fill="#1d9651" text-anchor="middle">7</text>
<text x="1171.2" y="1733.2" font-size="21.8" fill="#000" text-anchor="middle">Absolute rank</text>
<rect x="1495.2" y="1344.6" width="14.5" height="345.8" fill="url(#gr2)"/>
<line x1="1509.7" y1="1343.8" x2="1509.7" y2="1691.6" stroke="#231f20" stroke-width="2.6"/>
<line x1="1505.2" y1="1345.6" x2="1511" y2="1345.6" stroke="#231f20" stroke-width="2.6"/>
<text x="1513.8" y="1352.4" font-size="20.5" fill="#000">4</text>
<line x1="1505.2" y1="1460.33" x2="1511" y2="1460.33" stroke="#231f20" stroke-width="2.6"/>
<text x="1513.8" y="1467.13" font-size="20.5" fill="#000">3</text>
<line x1="1505.2" y1="1575.07" x2="1511" y2="1575.07" stroke="#231f20" stroke-width="2.6"/>
<text x="1513.8" y="1581.87" font-size="20.5" fill="#000">2</text>
<line x1="1505.2" y1="1689.8" x2="1511" y2="1689.8" stroke="#231f20" stroke-width="2.6"/>
<text x="1513.8" y="1696.6" font-size="20.5" fill="#000">1</text>
<text font-size="21.8" fill="#000" text-anchor="middle" transform="translate(1550.5 1519) rotate(-90)">Order to reach reward zone</text>
</g>
<g id="pg">
<text x="62.5" y="2037" font-size="28" fill="#000" font-weight="bold">g</text>
<rect x="157.7" y="2128.3" width="69.78" height="69.25" fill="#fab79f"/>
<rect x="227.08" y="2128.3" width="69.78" height="69.25" fill="#f8997f"/>
<rect x="296.46" y="2128.3" width="69.78" height="69.25" fill="#f0513d"/>
<rect x="365.84" y="2128.3" width="69.78" height="69.25" fill="#f25e46"/>
<rect x="227.08" y="2197.15" width="69.78" height="69.25" fill="#fab198"/>
<rect x="296.46" y="2197.15" width="69.78" height="69.25" fill="#f89075"/>
<rect x="365.84" y="2197.15" width="69.78" height="69.25" fill="#f67559"/>
<rect x="435.22" y="2197.15" width="69.78" height="69.25" fill="#f15740"/>
<rect x="296.46" y="2266" width="69.78" height="69.25" fill="#f15640"/>
<rect x="365.84" y="2266" width="69.78" height="69.25" fill="#f5694d"/>
<rect x="435.22" y="2266" width="69.78" height="69.25" fill="#e1332a"/>
<rect x="504.6" y="2266" width="69.78" height="69.25" fill="#be181d"/>
<rect x="365.84" y="2334.85" width="69.78" height="69.25" fill="#db2d28"/>
<rect x="435.22" y="2334.85" width="69.78" height="69.25" fill="#d82a26"/>
<rect x="504.6" y="2334.85" width="69.78" height="69.25" fill="#b9171c"/>
<rect x="573.98" y="2334.85" width="69.78" height="69.25" fill="#830d13"/>
<rect x="157.7" y="2403.7" width="69.78" height="69.25" fill="#f99d83"/>
<rect x="227.08" y="2403.7" width="69.78" height="69.25" fill="#f78c71"/>
<rect x="296.46" y="2403.7" width="69.78" height="69.25" fill="#f78a6e"/>
<rect x="365.84" y="2403.7" width="69.78" height="69.25" fill="#f8967b"/>
<rect x="435.22" y="2403.7" width="69.78" height="69.25" fill="#f78c70"/>
<rect x="504.6" y="2403.7" width="69.78" height="69.25" fill="#f57053"/>
<rect x="573.98" y="2403.7" width="69.78" height="69.25" fill="#f67f63"/>
<g fill="#fff" fill-opacity="0.9" font-size="18.2" text-anchor="middle">
<text x="197.39" y="2159.53">0.756</text>
<text x="198.59" y="2177.53">+/-0.18</text>
<text x="266.77" y="2159.53">0.813</text>
<text x="267.97" y="2177.53">+/-0.2</text>
<text x="336.15" y="2159.53">0.943</text>
<text x="337.35" y="2177.53">+/-0.24</text>
<text x="405.53" y="2159.53">0.922</text>
<text x="406.73" y="2177.53">+/-0.15</text>
<text x="266.77" y="2228.38">0.768</text>
<text x="267.97" y="2246.38">+/-0.16</text>
<text x="336.15" y="2228.38">0.83</text>
<text x="337.35" y="2246.38">+/-0.2</text>
<text x="405.53" y="2228.38">0.882</text>
<text x="406.73" y="2246.38">+/-0.2</text>
<text x="474.91" y="2228.38">0.934</text>
<text x="476.11" y="2246.38">+/-0.21</text>
<text x="336.15" y="2297.23">0.935</text>
<text x="337.35" y="2315.23">+/-0.2</text>
<text x="405.53" y="2297.23">0.904</text>
<text x="406.73" y="2315.23">+/-0.18</text>
<text x="474.91" y="2297.23">0.998</text>
<text x="476.11" y="2315.23">+/-0.28</text>
<text x="544.29" y="2297.23">1.072</text>
<text x="545.49" y="2315.23">+/-0.29</text>
<text x="405.53" y="2366.08">1.011</text>
<text x="406.73" y="2384.08">+/-0.17</text>
<text x="474.91" y="2366.08">1.018</text>
<text x="476.11" y="2384.08">+/-0.16</text>
<text x="544.29" y="2366.08">1.082</text>
<text x="545.49" y="2384.08">+/-0.29</text>
<text x="613.67" y="2366.08">1.163</text>
<text x="614.87" y="2384.08">+/-0.29</text>
<text x="197.39" y="2434.93">0.805</text>
<text x="198.59" y="2452.93">+/-0.16</text>
<text x="266.77" y="2434.93">0.838</text>
<text x="267.97" y="2452.93">+/-0.2</text>
<text x="336.15" y="2434.93">0.843</text>
<text x="337.35" y="2452.93">+/-0.19</text>
<text x="405.53" y="2434.93">0.819</text>
<text x="406.73" y="2452.93">+/-0.23</text>
<text x="474.91" y="2434.93">0.839</text>
<text x="476.11" y="2452.93">+/-0.2</text>
<text x="544.29" y="2434.93">0.893</text>
<text x="545.49" y="2452.93">+/-0.26</text>
<text x="613.67" y="2434.93">0.864</text>
<text x="614.87" y="2452.93">+/-0.22</text>
</g>
<line x1="158.9" y1="2132" x2="158.9" y2="2343" stroke="#231f20" stroke-width="3.3"/>
<path d="M158.9 2133.6 H165.4 M158.9 2202.8 H165.4 M158.9 2272.1 H165.4 M158.9 2341.4 H165.4 " fill="none" stroke="#231f20" stroke-width="2.6"/>
<text x="151.3" y="2138.7" font-size="20.5" fill="#000" text-anchor="end">1</text>
<text x="151.3" y="2207.9" font-size="20.5" fill="#000" text-anchor="end">2</text>
<text x="151.3" y="2277.2" font-size="20.5" fill="#000" text-anchor="end">3</text>
<text x="151.3" y="2346.5" font-size="20.5" fill="#000" text-anchor="end">4</text>
<text font-size="21.8" fill="#000" text-anchor="middle" transform="translate(135.5 2222.6) rotate(-90)">Relative rank</text>
<text font-size="21.8" fill="#9a9a9a" text-anchor="middle" transform="translate(144.5 2438.8) rotate(-90)">Alone</text>
<line x1="156" y1="2473.3" x2="645" y2="2473.3" stroke="#231f20" stroke-width="3"/>
<path d="M192.39 2473.3 V2467.8 M261.77 2473.3 V2467.8 M331.15 2473.3 V2467.8 M400.53 2473.3 V2467.8 M469.91 2473.3 V2467.8 M539.29 2473.3 V2467.8 M608.67 2473.3 V2467.8 " fill="none" stroke="#231f20" stroke-width="2.6"/>
<text x="192.39" y="2494.3" font-size="20.5" fill="#c1272d" text-anchor="middle">1</text>
<text x="261.77" y="2494.3" font-size="20.5" fill="#ea8e62" text-anchor="middle">2</text>
<text x="331.15" y="2494.3" font-size="20.5" fill="#d6bd33" text-anchor="middle">3</text>
<text x="400.53" y="2494.3" font-size="20.5" fill="#d5dc2c" text-anchor="middle">4</text>
<text x="469.91" y="2494.3" font-size="20.5" fill="#b5d23a" text-anchor="middle">5</text>
<text x="539.29" y="2494.3" font-size="20.5" fill="#8fc866" text-anchor="middle">6</text>
<text x="608.67" y="2494.3" font-size="20.5" fill="#1d9651" text-anchor="middle">7</text>
<text x="393" y="2517.3" font-size="21.8" fill="#000" text-anchor="middle">Absolute rank</text>
<rect x="661.4" y="2099.4" width="15.2" height="346.6" fill="url(#gr3)"/>
<line x1="676.6" y1="2098.6" x2="676.6" y2="2447.2" stroke="#231f20" stroke-width="2.6"/>
<line x1="672.1" y1="2100.4" x2="677.9" y2="2100.4" stroke="#231f20" stroke-width="2.6"/>
<text x="680.8" y="2107.2" font-size="20.5" fill="#000">1.2</text>
<line x1="672.1" y1="2215.4" x2="677.9" y2="2215.4" stroke="#231f20" stroke-width="2.6"/>
<text x="680.8" y="2222.2" font-size="20.5" fill="#000">1</text>
<line x1="672.1" y1="2330.4" x2="677.9" y2="2330.4" stroke="#231f20" stroke-width="2.6"/>
<text x="680.8" y="2337.2" font-size="20.5" fill="#000">.8</text>
<line x1="672.1" y1="2445.4" x2="677.9" y2="2445.4" stroke="#231f20" stroke-width="2.6"/>
<text x="680.8" y="2452.2" font-size="20.5" fill="#000">.6</text>
<text font-size="21.8" fill="#000" text-anchor="middle" transform="translate(724.5 2285.5) rotate(-90)">Time to exit staging area (s)</text>
<rect x="870.4" y="2100" width="86.8" height="86.75" fill="#f9af96"/>
<rect x="956.8" y="2100" width="86.8" height="86.75" fill="#f9ac93"/>
<rect x="1043.2" y="2100" width="86.8" height="86.75" fill="#f89075"/>
<rect x="1129.6" y="2100" width="86.8" height="86.75" fill="#f89277"/>
<rect x="956.8" y="2186.35" width="86.8" height="86.75" fill="#f9a48a"/>
<rect x="1043.2" y="2186.35" width="86.8" height="86.75" fill="#f8967b"/>
<rect x="1129.6" y="2186.35" width="86.8" height="86.75" fill="#f8957a"/>
<rect x="1216" y="2186.35" width="86.8" height="86.75" fill="#f88d71"/>
<rect x="1043.2" y="2272.7" width="86.8" height="86.75" fill="#f4694d"/>
<rect x="1129.6" y="2272.7" width="86.8" height="86.75" fill="#f67b5e"/>
<rect x="1216" y="2272.7" width="86.8" height="86.75" fill="#f4684c"/>
<rect x="1302.4" y="2272.7" width="86.8" height="86.75" fill="#f36147"/>
<rect x="1129.6" y="2359.05" width="86.8" height="86.75" fill="#ed4031"/>
<rect x="1216" y="2359.05" width="86.8" height="86.75" fill="#e8392d"/>
<rect x="1302.4" y="2359.05" width="86.8" height="86.75" fill="#e4352c"/>
<rect x="1388.8" y="2359.05" width="86.8" height="86.75" fill="#ea3b2e"/>
<g fill="#fff" fill-opacity="0.9" font-size="18.2" text-anchor="middle">
<text x="918.6" y="2139.98">1.86</text>
<text x="919.8" y="2157.98">+/-0.4</text>
<text x="1005" y="2139.98">1.886</text>
<text x="1006.2" y="2157.98">+/-0.4</text>
<text x="1091.4" y="2139.98">2.15</text>
<text x="1092.6" y="2157.98">+/-0.42</text>
<text x="1177.8" y="2139.98">2.138</text>
<text x="1179" y="2157.98">+/-0.42</text>
<text x="1005" y="2226.33">1.966</text>
<text x="1006.2" y="2244.33">+/-0.4</text>
<text x="1091.4" y="2226.33">2.099</text>
<text x="1092.6" y="2244.33">+/-0.42</text>
<text x="1177.8" y="2226.33">2.104</text>
<text x="1179" y="2244.33">+/-0.4</text>
<text x="1264.2" y="2226.33">2.185</text>
<text x="1265.4" y="2244.33">+/-0.39</text>
<text x="1091.4" y="2312.68">2.521</text>
<text x="1092.6" y="2330.68">+/-0.42</text>
<text x="1177.8" y="2312.68">2.36</text>
<text x="1179" y="2330.68">+/-0.4</text>
<text x="1264.2" y="2312.68">2.532</text>
<text x="1265.4" y="2330.68">+/-0.41</text>
<text x="1350.6" y="2312.68">2.591</text>
<text x="1351.8" y="2330.68">+/-0.42</text>
<text x="1177.8" y="2399.03">2.854</text>
<text x="1179" y="2417.03">+/-0.39</text>
<text x="1264.2" y="2399.03">2.915</text>
<text x="1265.4" y="2417.03">+/-0.38</text>
<text x="1350.6" y="2399.03">2.959</text>
<text x="1351.8" y="2417.03">+/-0.4</text>
<text x="1437" y="2399.03">2.896</text>
<text x="1438.2" y="2417.03">+/-0.41</text>
</g>
<line x1="871.3" y1="2141.5" x2="871.3" y2="2403.9" stroke="#231f20" stroke-width="3.3"/>
<path d="M871.3 2143.1 H877.8 M871.3 2229.5 H877.8 M871.3 2315.9 H877.8 M871.3 2402.3 H877.8 " fill="none" stroke="#231f20" stroke-width="2.6"/>
<text x="863.5" y="2149.7" font-size="20.5" fill="#000" text-anchor="end">1</text>
<text x="863.5" y="2236.1" font-size="20.5" fill="#000" text-anchor="end">2</text>
<text x="863.5" y="2322.5" font-size="20.5" fill="#000" text-anchor="end">3</text>
<text x="863.5" y="2408.9" font-size="20.5" fill="#000" text-anchor="end">4</text>
<text font-size="21.8" fill="#000" text-anchor="middle" transform="translate(846.2 2256) rotate(-90)">Relative rank</text>
<line x1="868" y1="2445.4" x2="1477" y2="2445.4" stroke="#231f20" stroke-width="3"/>
<path d="M912.6 2445.4 V2439.9 M999 2445.4 V2439.9 M1085.4 2445.4 V2439.9 M1171.8 2445.4 V2439.9 M1258.2 2445.4 V2439.9 M1344.6 2445.4 V2439.9 M1431 2445.4 V2439.9 " fill="none" stroke="#231f20" stroke-width="2.6"/>
<text x="912.6" y="2465.2" font-size="20.5" fill="#c1272d" text-anchor="middle">1</text>
<text x="999" y="2465.2" font-size="20.5" fill="#ea8e62" text-anchor="middle">2</text>
<text x="1085.4" y="2465.2" font-size="20.5" fill="#d6bd33" text-anchor="middle">3</text>
<text x="1171.8" y="2465.2" font-size="20.5" fill="#d5dc2c" text-anchor="middle">4</text>
<text x="1258.2" y="2465.2" font-size="20.5" fill="#b5d23a" text-anchor="middle">5</text>
<text x="1344.6" y="2465.2" font-size="20.5" fill="#8fc866" text-anchor="middle">6</text>
<text x="1431" y="2465.2" font-size="20.5" fill="#1d9651" text-anchor="middle">7</text>
<text x="1171" y="2489" font-size="21.8" fill="#000" text-anchor="middle">Absolute rank</text>
<rect x="1493.6" y="2099.2" width="14.5" height="346.6" fill="url(#gr4)"/>
<line x1="1508.1" y1="2098.4" x2="1508.1" y2="2447" stroke="#231f20" stroke-width="2.6"/>
<line x1="1503.6" y1="2100.2" x2="1509.4" y2="2100.2" stroke="#231f20" stroke-width="2.6"/>
<text x="1512.6" y="2107" font-size="20.5" fill="#000">4</text>
<line x1="1503.6" y1="2215.2" x2="1509.4" y2="2215.2" stroke="#231f20" stroke-width="2.6"/>
<text x="1512.6" y="2222" font-size="20.5" fill="#000">3</text>
<line x1="1503.6" y1="2330.2" x2="1509.4" y2="2330.2" stroke="#231f20" stroke-width="2.6"/>
<text x="1512.6" y="2337" font-size="20.5" fill="#000">2</text>
<line x1="1503.6" y1="2445.2" x2="1509.4" y2="2445.2" stroke="#231f20" stroke-width="2.6"/>
<text x="1512.6" y="2452" font-size="20.5" fill="#000">1</text>
<text font-size="21.8" fill="#000" text-anchor="middle" transform="translate(1550.5 2270) rotate(-90)">Order to exit staging area</text>
</g>
<g id="ph">
<rect x="157.5" y="1800.2" width="81.4" height="81.3" fill="#e7e7e7"/>
<circle cx="197.6" cy="1838" r="12.7" fill="#fff" stroke="#000" stroke-width="3.2"/>
<g transform="translate(235.5 1866.5) rotate(-24) scale(1.04)" opacity="1"><path d="M-6.5 8 L-7.5 62 M6.5 8 L7.5 62 M-2.5 18 L-3 46" stroke="url(#gtrail)" stroke-width="2.4" fill="none" stroke-linecap="round"/><path d="M0 -18 C2 -18 4 -14 5.5 -10 C7.5 -11 9.8 -9.5 9.3 -6.8 C9 -5.5 8.4 -4.6 7.6 -4 C10.3 0 11.3 5 10.4 9.5 C9.4 14 5 16.5 0 16.5 C-5 16.5 -9.4 14 -10.4 9.5 C-11.3 5 -10.3 0 -7.6 -4 C-8.4 -4.6 -9 -5.5 -9.3 -6.8 C-9.8 -9.5 -7.5 -11 -5.5 -10 C-4 -14 -2 -18 0 -18 Z" fill="#8c8c8c"/><path d="M0 16 C-2.5 22 3.5 27 2.5 33 C2 37 6.5 41 10 37.5" stroke="#8c8c8c" stroke-width="1.3" fill="none" stroke-linecap="round"/></g>
<text x="269.3" y="1829" font-size="21.9" fill="#000">Comp. success</text>
<text x="269.3" y="1855.3" font-size="21.9" fill="#000">[ reaching RZ]</text>
<rect x="157.5" y="2010.4" width="103.2" height="68" fill="url(#gteal)"/>
<g transform="translate(206.5 2012.5) rotate(0) scale(1.33)" opacity="0.42"><path d="M-6.5 8 L-7.5 62 M6.5 8 L7.5 62 M-2.5 18 L-3 46" stroke="url(#gtrail)" stroke-width="2.4" fill="none" stroke-linecap="round"/><path d="M0 -18 C2 -18 4 -14 5.5 -10 C7.5 -11 9.8 -9.5 9.3 -6.8 C9 -5.5 8.4 -4.6 7.6 -4 C10.3 0 11.3 5 10.4 9.5 C9.4 14 5 16.5 0 16.5 C-5 16.5 -9.4 14 -10.4 9.5 C-11.3 5 -10.3 0 -7.6 -4 C-8.4 -4.6 -9 -5.5 -9.3 -6.8 C-9.8 -9.5 -7.5 -11 -5.5 -10 C-4 -14 -2 -18 0 -18 Z" fill="#8c8c8c"/><path d="M0 16 C-2.5 22 3.5 27 2.5 33 C2 37 6.5 41 10 37.5" stroke="#8c8c8c" stroke-width="1.3" fill="none" stroke-linecap="round"/></g>
<g clip-path="url(#cpm1)">
<g transform="translate(206.5 2012.5) rotate(0) scale(1.33)" opacity="1"><path d="M0 -18 C2 -18 4 -14 5.5 -10 C7.5 -11 9.8 -9.5 9.3 -6.8 C9 -5.5 8.4 -4.6 7.6 -4 C10.3 0 11.3 5 10.4 9.5 C9.4 14 5 16.5 0 16.5 C-5 16.5 -9.4 14 -10.4 9.5 C-11.3 5 -10.3 0 -7.6 -4 C-8.4 -4.6 -9 -5.5 -9.3 -6.8 C-9.8 -9.5 -7.5 -11 -5.5 -10 C-4 -14 -2 -18 0 -18 Z" fill="#8c8c8c"/><path d="M0 16 C-2.5 22 3.5 27 2.5 33 C2 37 6.5 41 10 37.5" stroke="#8c8c8c" stroke-width="1.3" fill="none" stroke-linecap="round"/></g>
</g>
<text x="272.1" y="2033.5" font-size="21.9" fill="#000">Reaction time</text>
<text x="272.1" y="2059.2" font-size="21.9" fill="#000">[exit staging area]</text>
<line x1="757.3" y1="1752.7" x2="872" y2="1815.5" stroke="#9c9c9c" stroke-width="3.7"/>
<path d="M888 1824.3 L859 1823 L872.5 1799 Z" fill="#9c9c9c"/>
<line x1="756.2" y1="2052.3" x2="872" y2="1979.3" stroke="#9c9c9c" stroke-width="3.7"/>
<path d="M888 1969.2 L873 1994.5 L858.5 1971.5 Z" fill="#9c9c9c"/>
<line x1="906.7" y1="1743.2" x2="1552.3" y2="1743.2" stroke="#6b6b6b" stroke-width="3.8" stroke-dasharray="45.84 45.84" stroke-dashoffset="21.02"/>
<line x1="906.7" y1="2083.8" x2="1552.3" y2="2083.8" stroke="#6b6b6b" stroke-width="3.8" stroke-dasharray="45.84 45.84" stroke-dashoffset="21.02"/>
<line x1="908.6" y1="1743.2" x2="908.6" y2="2083.8" stroke="#6b6b6b" stroke-width="3.8" stroke-dasharray="42.58 42.58" stroke-dashoffset="21.29"/>
<line x1="1550.4" y1="1743.2" x2="1550.4" y2="2083.8" stroke="#6b6b6b" stroke-width="3.8" stroke-dasharray="42.58 42.58" stroke-dashoffset="21.29"/>
<text x="916" y="1791.5" font-size="28" fill="#000" font-weight="bold">h</text>
<rect x="1062.5" y="1770.5" width="56.66" height="62.05" fill="#343448"/>
<rect x="1118.76" y="1770.5" width="56.66" height="62.05" fill="#3e3e56"/>
<rect x="1175.02" y="1770.5" width="56.66" height="62.05" fill="#464661"/>
<rect x="1231.28" y="1770.5" width="56.66" height="62.05" fill="#9fbdbf"/>
<rect x="1118.76" y="1832.15" width="56.66" height="62.05" fill="#242432"/>
<rect x="1175.02" y="1832.15" width="56.66" height="62.05" fill="#585a78"/>
<rect x="1231.28" y="1832.15" width="56.66" height="62.05" fill="#5c607c"/>
<rect x="1287.54" y="1832.15" width="56.66" height="62.05" fill="#8091a0"/>
<rect x="1175.02" y="1893.8" width="56.66" height="62.05" fill="#111118"/>
<rect x="1231.28" y="1893.8" width="56.66" height="62.05" fill="#484864"/>
<rect x="1287.54" y="1893.8" width="56.66" height="62.05" fill="#474762"/>
<rect x="1343.8" y="1893.8" width="56.66" height="62.05" fill="#6e788e"/>
<rect x="1231.28" y="1955.45" width="56.66" height="62.05" fill="#dce8e8"/>
<rect x="1287.54" y="1955.45" width="56.66" height="62.05" fill="#8ba1ab"/>
<rect x="1343.8" y="1955.45" width="56.66" height="62.05" fill="#6b758b"/>
<rect x="1400.06" y="1955.45" width="56.66" height="62.05" fill="#91a9b1"/>
<g fill="#fff" fill-opacity="0.92" font-size="18.5" text-anchor="end">
<text x="1111.76" y="1807.12">0.428</text>
<text x="1168.02" y="1807.12">0.414</text>
<text x="1224.28" y="1807.12">0.403</text>
<text x="1280.54" y="1807.12">0.279</text>
<text x="1168.02" y="1868.77">0.45</text>
<text x="1224.28" y="1868.77">0.378</text>
<text x="1280.54" y="1868.77">0.372</text>
<text x="1336.8" y="1868.77">0.323</text>
<text x="1224.28" y="1930.42">0.476</text>
<text x="1280.54" y="1930.42">0.4</text>
<text x="1336.8" y="1930.42">0.402</text>
<text x="1393.06" y="1930.42">0.348</text>
<text x="1280.54" y="1992.08">0.222</text>
<text x="1336.8" y="1992.08">0.307</text>
<text x="1393.06" y="1992.08">0.351</text>
<text x="1449.32" y="1992.08">0.299</text>
</g>
<text x="1045.8" y="1807.6" font-size="20.5" fill="#000" text-anchor="middle">1</text>
<text x="1045.8" y="1870.4" font-size="20.5" fill="#000" text-anchor="middle">2</text>
<text x="1045.8" y="1933.2" font-size="20.5" fill="#000" text-anchor="middle">3</text>
<text x="1045.8" y="1996" font-size="20.5" fill="#000" text-anchor="middle">4</text>
<text font-size="21.8" fill="#000" text-anchor="middle" transform="translate(1029.8 1909.3) rotate(-90)">Relative rank</text>
<text x="1084.7" y="2046.6" font-size="20.5" fill="#c1272d" text-anchor="middle">1</text>
<text x="1142.27" y="2046.6" font-size="20.5" fill="#ea8e62" text-anchor="middle">2</text>
<text x="1199.84" y="2046.6" font-size="20.5" fill="#d6bd33" text-anchor="middle">3</text>
<text x="1257.41" y="2046.6" font-size="20.5" fill="#d5dc2c" text-anchor="middle">4</text>
<text x="1314.98" y="2046.6" font-size="20.5" fill="#b5d23a" text-anchor="middle">5</text>
<text x="1372.55" y="2046.6" font-size="20.5" fill="#8fc866" text-anchor="middle">6</text>
<text x="1430.12" y="2046.6" font-size="20.5" fill="#1d9651" text-anchor="middle">7</text>
<text x="1247" y="2072" font-size="21.8" fill="#000" text-anchor="middle">Absolute rank</text>
<rect x="1461.7" y="1785.5" width="11.5" height="201.5" fill="url(#gbone)"/>
<line x1="1473.2" y1="1784.5" x2="1473.2" y2="1988" stroke="#231f20" stroke-width="2.4"/>
<line x1="1469.5" y1="1786" x2="1474.4" y2="1786" stroke="#231f20" stroke-width="2.4"/>
<text x="1476.5" y="1790.8" font-size="20.5" fill="#000">.5</text>
<line x1="1469.5" y1="1853" x2="1474.4" y2="1853" stroke="#231f20" stroke-width="2.4"/>
<text x="1476.5" y="1857.8" font-size="20.5" fill="#000">.4</text>
<line x1="1469.5" y1="1920" x2="1474.4" y2="1920" stroke="#231f20" stroke-width="2.4"/>
<text x="1476.5" y="1924.8" font-size="20.5" fill="#000">.3</text>
<line x1="1469.5" y1="1987" x2="1474.4" y2="1987" stroke="#231f20" stroke-width="2.4"/>
<text x="1476.5" y="1991.8" font-size="20.5" fill="#000">.2</text>
<text transform="translate(1515.7 1904.3) rotate(-90)" font-size="20" text-anchor="middle">r<tspan dy="5" font-size="14.5">s</tspan><tspan dy="-5"> btw order to leave staging area</tspan></text>
<text font-size="20" fill="#000" text-anchor="middle" transform="translate(1533.6 1901.5) rotate(-90)">and competitive success</text>
<rect x="928.8" y="1814.6" width="53.2" height="52.2" fill="#e7e7e7"/>
<circle cx="955.1" cy="1838.7" r="8.6" fill="#fff" stroke="#000" stroke-width="3.1"/>
<g transform="translate(979.5 1858) rotate(-24) scale(0.72)" opacity="1"><path d="M-6.5 8 L-7.5 62 M6.5 8 L7.5 62 M-2.5 18 L-3 46" stroke="url(#gtrail)" stroke-width="2.4" fill="none" stroke-linecap="round"/><path d="M0 -18 C2 -18 4 -14 5.5 -10 C7.5 -11 9.8 -9.5 9.3 -6.8 C9 -5.5 8.4 -4.6 7.6 -4 C10.3 0 11.3 5 10.4 9.5 C9.4 14 5 16.5 0 16.5 C-5 16.5 -9.4 14 -10.4 9.5 C-11.3 5 -10.3 0 -7.6 -4 C-8.4 -4.6 -9 -5.5 -9.3 -6.8 C-9.8 -9.5 -7.5 -11 -5.5 -10 C-4 -14 -2 -18 0 -18 Z" fill="#8c8c8c"/><path d="M0 16 C-2.5 22 3.5 27 2.5 33 C2 37 6.5 41 10 37.5" stroke="#8c8c8c" stroke-width="1.3" fill="none" stroke-linecap="round"/></g>
<text x="958.5" y="1901" font-size="20" fill="#000" text-anchor="middle">vs</text>
<rect x="930.4" y="1931.2" width="56.9" height="36" fill="url(#gteal)"/>
<g transform="translate(957.3 1933) rotate(0) scale(0.81)" opacity="0.42"><path d="M-6.5 8 L-7.5 62 M6.5 8 L7.5 62 M-2.5 18 L-3 46" stroke="url(#gtrail)" stroke-width="2.4" fill="none" stroke-linecap="round"/><path d="M0 -18 C2 -18 4 -14 5.5 -10 C7.5 -11 9.8 -9.5 9.3 -6.8 C9 -5.5 8.4 -4.6 7.6 -4 C10.3 0 11.3 5 10.4 9.5 C9.4 14 5 16.5 0 16.5 C-5 16.5 -9.4 14 -10.4 9.5 C-11.3 5 -10.3 0 -7.6 -4 C-8.4 -4.6 -9 -5.5 -9.3 -6.8 C-9.8 -9.5 -7.5 -11 -5.5 -10 C-4 -14 -2 -18 0 -18 Z" fill="#8c8c8c"/><path d="M0 16 C-2.5 22 3.5 27 2.5 33 C2 37 6.5 41 10 37.5" stroke="#8c8c8c" stroke-width="1.3" fill="none" stroke-linecap="round"/></g>
<g clip-path="url(#cpm2)">
<g transform="translate(957.3 1933) rotate(0) scale(0.81)" opacity="1"><path d="M0 -18 C2 -18 4 -14 5.5 -10 C7.5 -11 9.8 -9.5 9.3 -6.8 C9 -5.5 8.4 -4.6 7.6 -4 C10.3 0 11.3 5 10.4 9.5 C9.4 14 5 16.5 0 16.5 C-5 16.5 -9.4 14 -10.4 9.5 C-11.3 5 -10.3 0 -7.6 -4 C-8.4 -4.6 -9 -5.5 -9.3 -6.8 C-9.8 -9.5 -7.5 -11 -5.5 -10 C-4 -14 -2 -18 0 -18 Z" fill="#8c8c8c"/><path d="M0 16 C-2.5 22 3.5 27 2.5 33 C2 37 6.5 41 10 37.5" stroke="#8c8c8c" stroke-width="1.3" fill="none" stroke-linecap="round"/></g>
</g>
</g>
</svg>
</body></html>
